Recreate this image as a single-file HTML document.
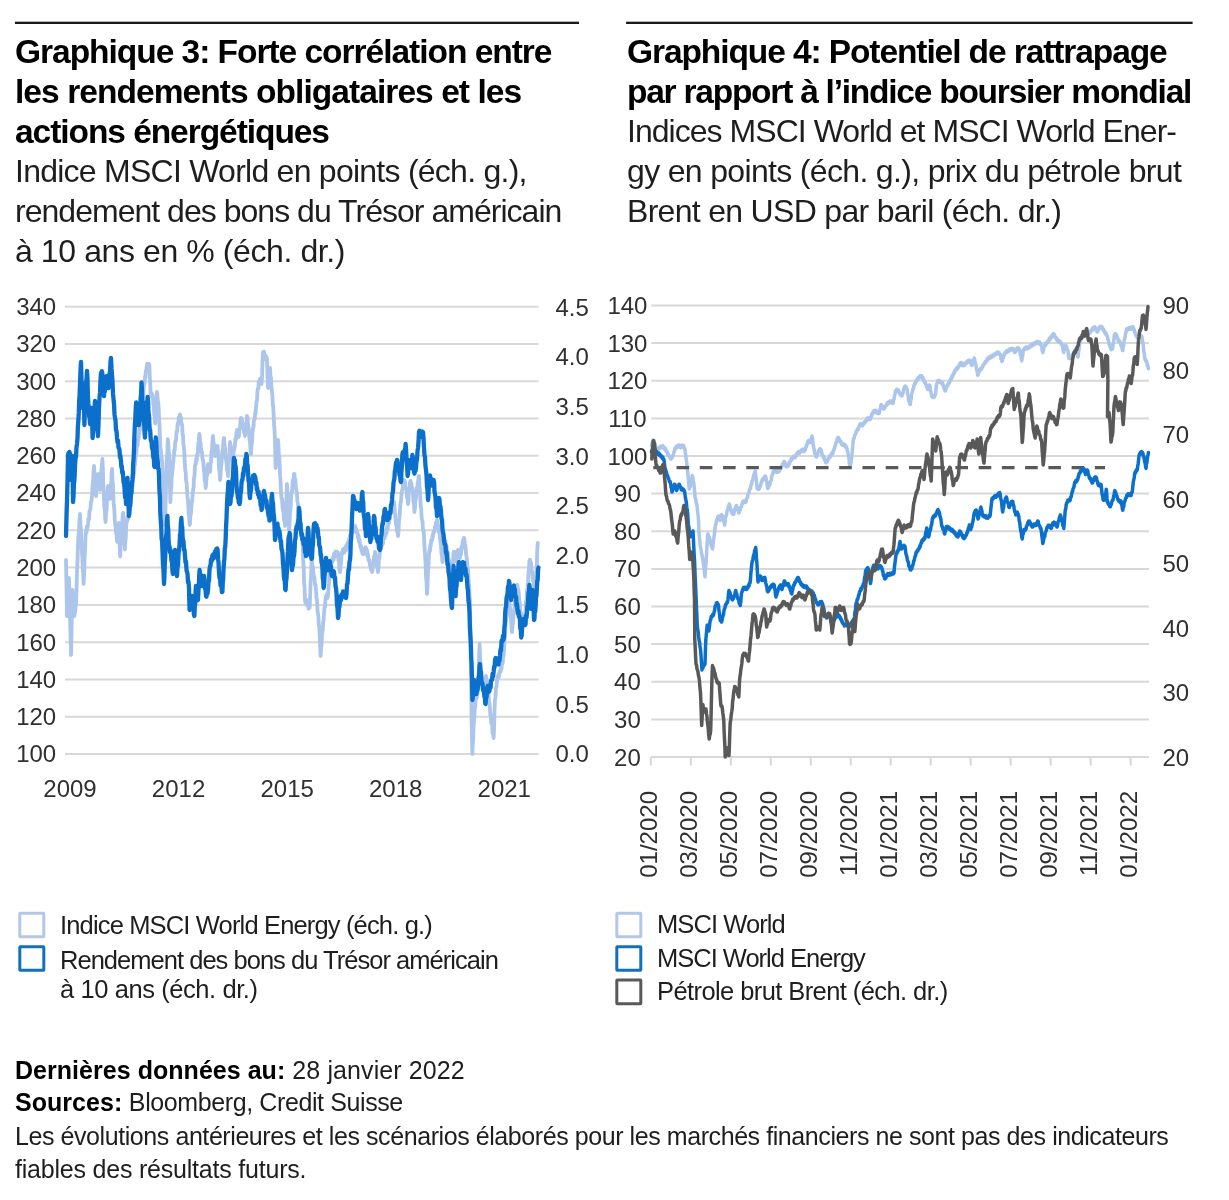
<!DOCTYPE html>
<html lang="fr"><head><meta charset="utf-8"><title>Graphiques 3 et 4</title>
<style>
html,body{margin:0;padding:0;background:#fff;}
body{width:1229px;height:1200px;position:relative;overflow:hidden;font-family:'Liberation Sans', Arial, Helvetica, sans-serif;}
.t{position:absolute;white-space:nowrap;line-height:1;}
.t b{font-weight:700;color:#000;}
svg{position:absolute;left:0;top:0;}
.ax{font-family:'Liberation Sans', Arial, Helvetica, sans-serif;font-size:24px;fill:#303030;}
</style></head><body>
<svg width="1229" height="1200" viewBox="0 0 1229 1200">
<rect x="15" y="21.7" width="564" height="2.3" fill="#1a1a1a"/>
<rect x="626.1" y="21.7" width="566.5" height="2.3" fill="#1a1a1a"/>
<line x1="65" y1="754.00" x2="538.5" y2="754.00" stroke="#d8d8d8" stroke-width="2"/>
<text x="56.2" y="762.40" text-anchor="end" class="ax">100</text>
<line x1="65" y1="716.72" x2="538.5" y2="716.72" stroke="#d8d8d8" stroke-width="2"/>
<text x="56.2" y="725.12" text-anchor="end" class="ax">120</text>
<line x1="65" y1="679.45" x2="538.5" y2="679.45" stroke="#d8d8d8" stroke-width="2"/>
<text x="56.2" y="687.85" text-anchor="end" class="ax">140</text>
<line x1="65" y1="642.17" x2="538.5" y2="642.17" stroke="#d8d8d8" stroke-width="2"/>
<text x="56.2" y="650.57" text-anchor="end" class="ax">160</text>
<line x1="65" y1="604.90" x2="538.5" y2="604.90" stroke="#d8d8d8" stroke-width="2"/>
<text x="56.2" y="613.30" text-anchor="end" class="ax">180</text>
<line x1="65" y1="567.62" x2="538.5" y2="567.62" stroke="#d8d8d8" stroke-width="2"/>
<text x="56.2" y="576.02" text-anchor="end" class="ax">200</text>
<line x1="65" y1="530.35" x2="538.5" y2="530.35" stroke="#d8d8d8" stroke-width="2"/>
<text x="56.2" y="538.75" text-anchor="end" class="ax">220</text>
<line x1="65" y1="493.07" x2="538.5" y2="493.07" stroke="#d8d8d8" stroke-width="2"/>
<text x="56.2" y="501.47" text-anchor="end" class="ax">240</text>
<line x1="65" y1="455.80" x2="538.5" y2="455.80" stroke="#d8d8d8" stroke-width="2"/>
<text x="56.2" y="464.20" text-anchor="end" class="ax">260</text>
<line x1="65" y1="418.52" x2="538.5" y2="418.52" stroke="#d8d8d8" stroke-width="2"/>
<text x="56.2" y="426.92" text-anchor="end" class="ax">280</text>
<line x1="65" y1="381.25" x2="538.5" y2="381.25" stroke="#d8d8d8" stroke-width="2"/>
<text x="56.2" y="389.65" text-anchor="end" class="ax">300</text>
<line x1="65" y1="343.97" x2="538.5" y2="343.97" stroke="#d8d8d8" stroke-width="2"/>
<text x="56.2" y="352.37" text-anchor="end" class="ax">320</text>
<line x1="65" y1="306.70" x2="538.5" y2="306.70" stroke="#d8d8d8" stroke-width="2"/>
<text x="56.2" y="315.10" text-anchor="end" class="ax">340</text>
<text x="555.5" y="315.65" class="ax">4.5</text>
<text x="555.5" y="365.28" class="ax">4.0</text>
<text x="555.5" y="414.91" class="ax">3.5</text>
<text x="555.5" y="464.54" class="ax">3.0</text>
<text x="555.5" y="514.17" class="ax">2.5</text>
<text x="555.5" y="563.80" class="ax">2.0</text>
<text x="555.5" y="613.43" class="ax">1.5</text>
<text x="555.5" y="663.06" class="ax">1.0</text>
<text x="555.5" y="712.69" class="ax">0.5</text>
<text x="555.5" y="762.32" class="ax">0.0</text>
<text x="70.00" y="797.3" text-anchor="middle" class="ax">2009</text>
<text x="178.57" y="797.3" text-anchor="middle" class="ax">2012</text>
<text x="287.14" y="797.3" text-anchor="middle" class="ax">2015</text>
<text x="395.71" y="797.3" text-anchor="middle" class="ax">2018</text>
<text x="504.28" y="797.3" text-anchor="middle" class="ax">2021</text>
<polyline points="66.0,560.0 66.5,586.2 67.0,616.0 67.5,608.6 68.0,595.1 68.5,589.7 69.0,578.0 69.5,595.0 70.0,618.1 70.5,634.2 71.0,655.0 71.5,635.8 71.9,609.8 72.4,590.0 72.9,598.3 73.4,600.4 73.9,611.5 74.4,616.0 74.8,610.6 75.2,612.1 75.6,604.8 76.0,604.0 76.5,590.7 77.0,571.8 77.5,561.5 78.0,544.0 78.5,534.4 79.0,531.3 79.5,519.2 80.0,514.0 80.5,525.1 81.0,530.7 81.5,544.7 82.0,552.0 82.4,558.1 82.8,569.6 83.2,573.5 83.6,584.0 84.1,573.6 84.6,556.7 85.1,549.0 85.6,534.0 86.1,529.7 86.6,532.5 87.0,526.0 87.5,528.4 88.0,524.0 88.5,518.5 89.0,519.5 89.5,511.0 90.0,510.0 90.5,508.2 91.0,501.3 91.5,501.3 92.0,496.0 92.5,485.9 93.0,483.0 93.5,471.3 94.0,466.0 94.5,475.4 95.0,478.9 95.5,490.5 96.0,496.0 96.5,488.6 97.0,487.2 97.5,477.3 98.0,474.0 98.5,480.5 99.0,479.7 99.5,488.5 100.0,490.0 100.5,481.3 101.0,480.2 101.4,469.1 101.9,466.9 102.4,459.0 102.8,466.8 103.2,482.1 103.6,487.2 104.0,500.0 104.4,507.7 104.8,508.7 105.2,518.3 105.6,522.0 106.1,512.4 106.6,509.8 107.0,498.5 107.5,494.8 108.0,486.0 108.5,486.7 109.0,495.0 109.5,493.9 110.0,498.8 110.4,495.2 110.8,484.9 111.3,482.6 111.7,473.1 112.1,469.0 112.5,480.4 112.9,484.5 113.4,497.6 113.8,505.0 114.3,509.5 114.8,519.9 115.2,525.0 115.7,526.1 116.1,533.7 116.5,532.7 117.0,541.2 117.4,542.0 117.9,533.6 118.3,531.9 118.8,523.0 119.2,532.3 119.7,547.0 120.2,556.5 120.6,546.4 121.0,542.3 121.5,531.1 121.9,525.0 122.3,522.9 122.7,514.6 123.1,512.8 123.5,523.7 124.0,529.5 124.5,542.8 124.9,549.5 125.3,540.5 125.8,537.8 126.2,525.6 126.6,521.0 127.0,521.7 127.5,516.5 128.0,519.4 128.4,516.0 128.8,510.8 129.2,512.2 129.7,504.9 130.1,504.0 130.6,502.7 131.0,494.5 131.4,495.6 131.9,490.0 132.3,484.5 132.8,485.3 133.2,477.7 133.6,476.0 134.1,473.5 134.5,464.7 134.9,465.0 135.4,458.5 135.8,453.2 136.2,453.8 136.7,447.1 137.1,446.0 137.6,445.2 138.0,438.4 138.4,439.2 138.9,434.0 139.3,429.2 139.8,430.4 140.2,423.9 140.6,423.5 141.1,420.3 141.5,410.7 141.9,409.7 142.4,402.5 142.8,395.8 143.2,396.1 143.7,387.8 144.1,385.0 144.5,383.4 145.0,376.3 145.4,377.9 145.9,370.3 146.3,371.0 146.8,365.8 147.2,363.6 147.6,367.6 148.1,363.8 148.5,367.6 149.0,363.8 149.4,365.8 149.8,377.3 150.2,382.5 150.6,393.8 151.1,396.4 151.5,392.8 152.0,397.4 152.4,394.4 152.9,397.2 153.3,404.8 153.8,405.9 154.2,414.8 154.7,415.9 155.2,423.5 155.6,417.4 156.0,406.0 156.5,401.9 156.9,392.0 157.3,393.7 157.8,401.5 158.2,401.9 158.7,407.8 159.1,419.7 159.5,425.4 160.0,440.0 160.4,448.0 160.8,449.5 161.3,457.6 161.7,457.9 162.2,463.8 162.6,474.7 163.0,478.8 163.4,490.0 163.8,500.8 164.2,505.7 164.7,517.9 165.1,525.0 165.5,505.4 165.9,491.8 166.3,472.5 166.8,459.0 167.3,452.8 167.8,439.2 168.2,442.7 168.7,451.6 169.2,455.0 169.6,468.4 170.0,488.7 170.4,502.2 170.8,492.4 171.2,489.3 171.7,478.2 172.1,472.5 172.6,470.0 173.0,461.4 173.4,461.2 173.9,455.0 174.3,449.6 174.8,450.0 175.2,442.5 175.6,441.0 176.1,439.5 176.5,431.5 176.9,432.2 177.4,427.0 177.8,423.0 178.3,424.6 178.8,417.2 179.2,419.8 179.7,414.8 180.1,414.5 180.5,420.8 180.9,417.5 181.3,423.5 181.8,423.5 182.2,425.7 182.6,435.0 183.0,434.9 183.4,443.8 183.8,446.2 184.3,452.0 184.8,463.3 185.2,469.0 185.7,472.5 186.1,481.1 186.6,482.6 187.0,490.0 187.5,497.7 187.9,499.3 188.4,507.5 188.8,514.9 189.2,516.7 189.6,525.0 190.1,522.9 190.5,513.7 190.9,514.4 191.4,507.5 191.8,500.6 192.2,500.9 192.7,492.8 193.1,490.0 193.6,487.1 194.0,477.8 194.5,476.1 194.9,466.8 195.4,463.8 195.8,464.1 196.2,458.3 196.7,461.0 197.1,454.6 197.5,455.0 197.9,451.7 198.4,442.7 198.8,441.7 199.2,434.0 199.7,435.4 200.1,443.4 200.6,442.6 201.0,448.0 201.5,452.8 202.0,451.9 202.5,459.4 203.0,460.0 203.4,462.9 203.9,471.7 204.3,471.5 204.7,481.1 205.2,480.9 205.6,488.0 206.1,484.8 206.6,476.2 207.0,476.1 207.5,467.2 208.0,464.0 208.5,467.8 209.0,466.2 209.5,472.1 210.0,472.0 210.5,464.0 211.0,462.1 211.5,451.6 212.0,449.6 212.5,440.4 213.0,436.0 213.5,442.7 214.0,444.3 214.5,452.6 215.0,456.0 215.4,451.8 215.9,455.1 216.3,449.4 216.7,451.4 217.2,445.8 217.6,446.0 218.1,454.7 218.6,457.7 219.0,468.6 219.5,471.0 220.0,480.0 220.5,475.9 221.0,466.2 221.5,463.9 222.0,456.0 222.5,449.8 223.0,449.1 223.5,440.2 224.0,438.0 224.5,445.5 225.0,447.4 225.5,456.2 226.0,460.0 226.5,462.1 227.0,470.2 227.5,469.6 228.0,476.0 228.5,469.5 229.0,456.6 229.5,452.7 230.0,442.0 230.5,444.5 231.0,452.9 231.5,453.4 232.0,460.0 232.5,459.6 233.0,452.7 233.5,454.3 234.0,447.3 234.5,448.5 235.0,444.0 235.5,438.4 236.0,439.3 236.5,431.9 237.0,430.0 237.5,433.5 238.0,431.0 238.5,437.0 239.0,436.0 239.5,429.0 240.0,428.9 240.5,420.0 241.0,418.0 241.5,421.9 242.0,419.2 242.5,424.5 243.0,424.0 243.5,425.3 244.0,432.4 244.5,430.8 245.0,436.0 245.5,433.5 246.0,423.6 246.5,423.3 247.0,416.0 247.5,417.7 248.0,426.1 248.5,426.3 249.0,432.0 249.5,439.7 250.0,441.4 250.5,450.2 251.0,454.0 251.5,445.1 252.0,442.6 252.5,432.8 253.0,428.0 253.5,427.0 253.9,420.2 254.4,420.0 254.8,418.7 255.2,412.4 255.6,413.4 256.0,408.0 256.5,401.3 257.0,400.4 257.5,390.7 258.0,388.0 258.4,388.4 258.8,381.4 259.2,384.2 259.6,380.0 260.1,378.6 260.6,383.6 261.1,380.6 261.6,384.0 262.1,375.4 262.5,360.4 263.0,352.0 263.5,354.7 264.0,351.7 264.5,357.5 265.0,356.0 265.5,355.4 266.0,359.9 266.5,356.9 267.0,360.0 267.5,376.4 268.0,388.0 268.5,381.2 269.0,379.7 269.5,371.2 270.0,368.0 270.5,376.2 271.0,377.7 271.5,388.0 272.0,392.0 272.4,395.6 272.8,405.0 273.2,406.6 273.6,414.0 274.1,424.7 274.5,429.7 275.0,440.0 275.3,456.1 275.6,468.0 276.1,459.8 276.6,458.8 277.0,448.9 277.5,447.3 278.0,440.0 278.4,443.7 278.8,454.3 279.2,455.7 279.6,464.0 280.1,475.4 280.5,480.6 281.0,492.0 281.5,498.7 282.0,498.5 282.5,507.2 283.0,510.0 283.5,512.3 284.0,520.3 284.5,519.5 285.0,526.0 285.5,517.6 286.0,503.0 286.5,496.8 287.0,484.0 287.5,493.7 288.0,508.8 288.5,516.7 289.0,530.0 289.5,524.7 290.0,513.1 290.5,509.3 291.0,500.0 291.5,492.7 292.0,492.6 292.5,483.1 293.0,480.0 293.5,480.3 293.9,474.0 294.4,474.0 294.9,480.4 295.4,479.8 295.9,487.8 296.4,490.0 296.9,493.2 297.4,501.6 297.9,502.9 298.4,510.0 298.8,514.5 299.2,513.3 299.6,519.4 300.0,520.0 300.5,522.1 301.0,530.4 301.4,530.3 301.9,538.6 302.4,540.0 302.8,547.9 303.3,562.2 303.7,568.0 304.1,582.4 304.6,587.6 305.0,600.0 305.4,602.8 305.9,599.3 306.3,604.3 306.7,600.2 307.2,605.3 307.6,604.0 308.1,602.7 308.6,608.6 309.1,605.0 309.6,608.0 310.1,597.8 310.6,582.2 311.1,574.3 311.6,560.0 312.1,560.9 312.6,569.0 313.0,567.2 313.5,574.6 314.0,576.0 314.5,577.7 315.0,584.8 315.5,584.7 316.0,590.0 316.5,598.3 317.0,599.5 317.5,610.5 318.0,614.0 318.4,616.7 318.8,625.5 319.2,625.6 319.6,632.0 320.1,646.0 320.6,656.0 321.1,647.7 321.5,645.6 321.9,636.3 322.4,632.0 322.8,629.9 323.2,621.1 323.6,620.4 324.0,614.0 324.5,607.3 325.0,607.3 325.5,598.9 326.0,596.0 326.5,597.9 327.0,594.0 327.5,598.1 328.0,596.0 328.5,586.7 329.0,583.2 329.5,570.9 330.0,566.0 330.5,566.8 331.0,561.5 331.4,564.1 331.9,559.4 332.4,560.0 332.8,561.3 333.3,556.3 333.7,559.5 334.1,553.5 334.6,556.7 335.0,554.0 335.5,551.5 336.0,555.9 336.5,551.6 337.0,556.3 337.5,552.1 338.0,554.0 338.5,560.8 339.0,560.8 339.5,569.9 340.0,572.0 340.5,565.2 341.0,564.3 341.5,554.4 342.0,552.0 342.5,553.9 343.0,549.2 343.5,552.7 344.0,548.6 344.5,552.3 345.0,550.0 345.5,546.7 346.0,550.3 346.5,544.9 347.0,547.7 347.5,542.8 348.0,544.0 348.5,544.5 349.0,538.9 349.5,541.5 350.0,535.1 350.5,537.4 351.0,534.0 351.5,530.1 352.0,533.0 352.5,528.1 353.0,531.0 353.5,525.2 354.0,526.0 354.5,529.1 355.0,525.8 355.5,531.0 356.0,528.1 356.5,532.7 357.0,532.0 357.5,532.4 358.0,538.3 358.5,535.7 359.0,542.1 359.5,539.7 360.0,544.0 360.5,547.6 361.0,545.5 361.5,551.0 362.0,548.2 362.5,553.9 363.0,554.0 363.5,550.9 364.0,553.8 364.5,548.6 365.0,551.9 365.5,547.1 366.0,548.0 366.5,552.0 367.0,549.9 367.5,556.4 368.0,554.1 368.5,560.4 369.0,560.0 369.5,560.3 370.0,565.8 370.5,564.3 371.0,569.7 371.5,567.6 372.0,572.0 372.5,571.0 373.0,563.6 373.5,563.8 374.0,556.7 374.5,557.7 375.0,552.0 375.5,552.9 376.0,561.0 376.5,559.8 377.0,567.0 377.5,566.7 378.0,572.0 378.5,568.3 379.0,558.9 379.5,557.7 380.0,550.0 380.5,546.7 381.0,548.8 381.5,543.1 382.0,545.6 382.5,540.1 383.0,543.5 383.5,537.0 384.0,538.0 384.5,538.5 385.0,532.9 385.5,535.7 386.0,529.8 386.5,533.1 387.0,526.7 387.5,529.4 388.0,526.0 388.5,521.2 389.0,523.4 389.5,516.8 390.0,519.0 390.5,512.8 391.0,512.0 391.5,512.7 392.0,506.4 392.5,509.1 393.0,503.2 393.5,505.7 394.0,502.0 394.4,504.7 394.8,513.1 395.2,513.9 395.6,520.0 396.1,525.3 396.6,524.2 397.0,531.6 397.5,530.7 398.0,536.0 398.5,532.1 399.0,520.5 399.5,518.2 400.0,510.0 400.5,502.6 401.0,502.2 401.5,493.4 402.0,490.0 402.5,489.9 403.0,484.2 403.4,485.6 403.9,479.9 404.4,480.0 404.8,484.5 405.2,482.1 405.6,488.5 406.0,488.0 406.5,489.7 407.0,497.7 407.5,497.5 408.0,504.0 408.5,500.7 409.0,490.5 409.5,489.8 410.0,482.0 410.5,480.9 411.0,486.3 411.4,483.2 411.9,489.3 412.4,488.0 412.9,491.5 413.4,502.0 413.9,503.7 414.4,512.0 414.9,509.1 415.4,500.3 415.9,498.6 416.4,492.0 416.8,487.7 417.3,488.4 417.7,482.3 418.1,483.4 418.6,476.4 419.0,476.0 419.5,486.1 419.9,490.0 420.4,500.0 420.8,507.2 421.2,508.1 421.6,517.0 422.0,520.0 422.5,521.7 423.0,530.0 423.5,530.3 424.0,536.0 424.5,547.5 425.0,554.0 425.5,561.7 426.0,575.9 426.5,582.1 427.0,594.0 427.5,586.1 428.0,571.8 428.5,565.8 429.0,554.0 429.4,550.1 429.9,551.1 430.3,544.6 430.7,546.4 431.2,540.3 431.6,540.0 432.1,540.2 432.6,535.0 433.0,536.9 433.5,531.6 434.0,532.0 434.5,531.7 435.0,526.4 435.5,527.7 436.0,522.3 436.5,524.1 437.0,520.0 437.5,521.0 438.0,526.9 438.5,526.0 439.0,532.7 439.5,531.0 440.0,536.0 440.5,542.8 441.0,544.4 441.4,553.6 441.9,555.2 442.4,562.0 442.8,560.9 443.3,552.9 443.7,552.7 444.1,545.3 444.6,545.4 445.0,540.0 445.5,540.3 446.0,546.9 446.5,545.8 447.0,550.0 447.5,554.1 448.0,552.7 448.5,559.3 449.0,560.0 449.4,561.3 449.9,569.4 450.3,568.5 450.7,576.5 451.2,576.5 451.6,582.0 452.1,576.3 452.6,564.6 453.1,561.7 453.6,552.0 454.1,551.7 454.6,556.9 455.0,554.5 455.5,561.0 456.0,560.0 456.5,555.3 457.0,556.6 457.5,550.9 458.0,550.0 458.5,553.7 459.0,552.3 459.5,557.6 460.0,558.0 460.5,553.6 461.0,554.6 461.4,547.1 461.9,548.6 462.4,544.0 462.9,540.2 463.4,543.6 463.9,537.9 464.4,539.0 464.9,545.8 465.4,545.0 465.9,553.3 466.4,556.0 466.9,559.1 467.4,568.2 467.9,568.5 468.4,576.0 468.8,583.7 469.2,586.1 469.6,596.4 470.0,600.0 470.4,628.3 470.8,662.0 471.2,688.1 471.6,720.0 472.0,739.3 472.4,754.0 472.8,743.0 473.2,738.7 473.6,726.2 474.0,720.0 474.4,717.3 474.8,707.6 475.2,707.1 475.6,700.0 476.1,695.5 476.6,697.9 477.0,692.0 477.5,693.8 478.0,690.0 478.4,676.1 478.8,669.1 479.2,653.7 479.6,644.0 480.1,657.7 480.5,665.7 481.0,680.0 481.5,683.5 482.0,680.4 482.5,686.0 483.0,683.3 483.5,688.4 484.0,688.0 484.5,682.7 485.0,683.6 485.5,677.0 486.0,676.0 486.5,681.8 487.0,680.7 487.5,688.2 488.0,690.0 488.5,693.2 489.0,702.4 489.5,702.8 490.0,710.0 490.4,716.0 490.8,714.5 491.2,722.5 491.6,724.0 492.1,725.0 492.6,733.3 493.1,732.6 493.6,738.0 494.1,727.3 494.5,711.0 495.0,700.0 495.5,697.0 496.0,687.4 496.5,686.7 497.0,680.0 497.5,676.5 498.0,679.0 498.5,674.4 499.0,676.9 499.5,671.5 500.0,672.0 500.5,672.0 501.0,667.1 501.4,669.4 501.9,663.4 502.4,664.0 502.8,662.1 503.2,655.2 503.6,656.1 504.0,650.0 504.5,640.7 505.0,637.1 505.5,625.5 506.0,620.0 506.5,616.4 507.0,605.8 507.5,604.4 508.0,596.0 508.5,596.9 509.0,603.8 509.5,603.3 510.0,608.0 510.5,615.6 511.0,617.6 511.5,627.7 512.0,632.0 512.5,624.9 513.0,623.6 513.5,613.7 514.0,610.0 514.5,608.3 515.0,600.0 515.5,599.5 515.9,591.5 516.4,591.6 516.9,585.0 517.4,585.0 517.8,591.7 518.3,589.4 518.8,594.0 519.2,601.1 519.7,601.3 520.1,610.1 520.6,612.5 521.1,613.6 521.5,620.4 522.0,619.4 522.5,625.0 523.0,625.2 523.5,618.6 524.0,620.8 524.5,614.9 525.0,615.0 525.5,611.5 526.0,601.7 526.5,600.1 527.0,591.1 527.5,587.5 528.0,582.9 528.5,572.6 528.9,569.8 529.4,561.0 529.9,559.7 530.3,565.0 530.8,561.8 531.2,565.0 531.7,571.2 532.2,571.2 532.6,578.9 533.1,581.0 533.6,580.0 534.0,586.2 534.5,583.9 535.0,587.5 535.4,585.0 535.8,577.4 536.2,575.0 536.8,566.1 537.2,551.1 537.8,543.0" fill="none" stroke="#abc6ea" stroke-width="3.8" stroke-linejoin="round" stroke-linecap="round"/>
<polyline points="66.0,536.0 66.5,515.6 67.0,500.0 67.5,480.5 68.0,456.0 68.5,452.9 69.0,457.7 69.5,452.0 70.0,454.0 70.5,469.7 71.0,480.0 71.5,470.3 71.9,466.2 72.4,456.0 72.7,476.3 73.0,502.0 73.5,497.1 73.9,484.6 74.4,480.0 74.7,474.8 75.0,466.0 75.5,458.3 76.0,457.0 76.5,447.2 77.0,444.0 77.5,438.3 77.9,426.3 78.4,420.0 78.8,412.9 79.2,400.0 79.6,395.7 80.0,384.0 80.5,370.5 81.0,362.0 81.5,379.2 81.9,390.1 82.4,408.0 82.8,401.8 83.2,389.6 83.6,384.0 84.0,406.3 84.4,425.0 84.8,411.7 85.2,404.3 85.6,390.0 86.1,381.8 86.5,379.3 87.0,371.0 87.5,379.2 87.9,395.7 88.4,404.0 88.8,407.0 89.2,416.8 89.6,416.7 90.0,424.0 90.4,422.4 90.8,414.1 91.2,414.7 91.6,408.0 92.1,420.5 92.6,438.0 93.1,432.1 93.5,418.0 94.0,412.0 94.5,408.5 95.0,401.0 95.5,405.2 95.9,415.5 96.4,420.0 96.8,422.2 97.2,429.8 97.6,430.0 98.0,436.0 98.5,424.4 99.0,408.0 99.5,397.6 100.0,392.9 100.5,379.7 101.0,373.0 101.5,375.4 101.9,371.1 102.4,374.0 102.8,381.7 103.2,383.0 103.6,392.7 104.0,396.0 104.4,390.5 104.8,391.7 105.2,384.2 105.6,384.0 106.1,383.0 106.5,376.1 107.0,376.0 107.5,382.6 107.9,382.3 108.4,388.0 108.8,385.9 109.2,376.6 109.6,374.0 110.1,371.0 110.5,361.6 111.0,358.0 111.5,368.2 112.0,375.0 112.5,381.1 113.0,393.7 113.5,399.0 114.0,403.4 114.5,414.2 115.0,418.0 115.5,420.2 116.0,430.5 116.5,430.6 117.0,437.5 117.5,442.2 118.0,440.5 118.5,447.9 119.0,448.0 119.5,449.7 120.0,457.5 120.5,455.9 121.0,462.0 121.4,467.4 121.8,465.9 122.3,473.1 122.7,471.4 123.1,476.0 123.6,482.7 124.1,483.0 124.6,490.0 125.1,497.4 125.6,497.3 126.1,504.0 126.6,498.0 127.0,484.4 127.5,478.0 128.0,492.7 128.4,501.3 128.9,516.0 129.3,513.9 129.8,506.2 130.2,505.8 130.6,500.0 131.1,492.5 131.5,492.8 131.9,483.1 132.4,480.0 132.8,474.6 133.2,462.9 133.6,458.5 134.0,449.3 134.5,433.4 134.9,424.0 135.3,418.8 135.8,407.3 136.2,402.5 136.7,410.7 137.1,411.6 137.6,421.5 138.0,425.0 138.4,422.0 138.9,425.2 139.3,419.5 139.8,420.0 140.2,412.8 140.6,398.6 141.1,393.6 141.5,382.4 141.9,387.3 142.3,399.9 142.8,402.2 143.2,412.0 143.6,420.9 144.1,423.0 144.6,433.3 145.0,437.5 145.4,426.8 145.9,422.4 146.3,408.9 146.8,402.0 147.2,401.7 147.6,397.0 148.1,401.0 148.5,413.1 148.9,414.5 149.4,424.0 149.8,430.4 150.2,430.3 150.7,439.2 151.1,441.0 151.6,441.5 152.0,448.5 152.4,447.1 152.9,452.0 153.3,457.6 153.8,457.4 154.2,466.0 154.6,467.0 155.0,454.4 155.4,449.7 155.8,437.5 156.3,442.1 156.8,453.2 157.2,458.0 157.7,460.7 158.1,469.0 158.6,468.9 159.0,476.0 159.4,490.0 159.9,496.7 160.3,512.7 160.8,521.5 161.2,526.3 161.6,538.7 162.1,541.2 162.5,551.0 163.0,564.5 163.5,570.9 164.0,584.0 164.4,577.0 164.8,563.0 165.2,557.7 165.6,546.0 166.1,536.0 166.5,533.5 166.9,521.5 167.4,516.0 167.8,526.2 168.2,528.6 168.6,540.8 169.0,546.0 169.5,546.3 170.0,552.3 170.5,550.0 171.0,554.0 171.5,561.4 172.0,561.8 172.5,571.6 173.0,574.0 173.5,565.6 174.0,564.6 174.5,553.9 175.0,550.0 175.5,558.9 176.0,560.5 176.5,572.1 177.0,576.0 177.5,567.4 178.0,565.6 178.5,553.8 179.0,550.0 179.5,546.1 180.0,534.4 180.4,533.6 180.9,522.1 181.4,518.0 181.8,525.8 182.2,527.1 182.6,537.1 183.0,540.0 183.5,541.3 184.0,550.2 184.5,549.5 185.0,556.0 185.5,562.5 186.0,561.5 186.5,569.9 187.0,572.0 187.5,573.4 188.0,582.3 188.5,581.6 189.0,588.0 189.3,601.2 189.6,610.0 190.1,604.8 190.6,606.9 191.0,599.2 191.5,601.3 192.0,596.0 192.5,598.3 193.0,605.9 193.4,605.8 193.9,614.4 194.4,616.0 194.8,606.6 195.2,603.4 195.6,591.1 196.0,586.0 196.5,591.2 197.0,590.8 197.5,598.4 198.0,600.0 198.4,590.8 198.8,586.8 199.2,575.5 199.6,570.0 200.1,575.1 200.6,574.5 201.0,581.3 201.5,580.6 202.0,586.0 202.5,585.6 203.0,578.6 203.5,580.8 204.0,576.0 204.5,579.1 205.0,588.7 205.5,589.3 206.0,596.0 206.5,596.6 207.0,591.0 207.5,593.6 208.0,590.0 208.5,582.2 209.0,580.6 209.5,569.9 210.0,566.0 210.5,565.7 211.0,559.6 211.5,561.8 212.0,558.0 212.5,555.2 213.0,559.1 213.5,554.2 214.0,556.0 214.5,557.8 215.0,551.4 215.5,555.1 216.0,552.0 216.4,548.9 216.8,553.4 217.2,548.4 217.6,550.0 218.1,559.2 218.5,562.3 219.0,572.0 219.5,577.8 220.0,576.2 220.5,585.3 221.0,586.0 221.5,585.6 221.9,592.1 222.4,592.0 222.8,581.8 223.2,578.7 223.6,567.7 224.0,562.0 224.4,558.8 224.8,548.6 225.2,547.3 225.6,540.0 226.1,525.6 226.5,518.7 227.0,504.0 227.5,494.6 227.9,491.5 228.4,482.0 228.8,485.6 229.2,495.0 229.6,495.7 230.0,504.0 230.5,502.6 231.0,494.2 231.5,496.2 232.0,490.0 232.5,479.7 233.0,476.0 233.5,463.2 234.0,458.0 234.4,462.2 234.8,459.9 235.2,466.0 235.6,466.0 236.1,471.9 236.5,485.6 237.0,492.0 237.4,492.0 237.9,498.2 238.3,496.2 238.7,502.4 239.2,499.8 239.6,504.0 240.1,501.2 240.6,491.8 241.0,492.2 241.5,483.1 242.0,480.0 242.5,479.9 243.0,473.2 243.4,475.5 243.9,467.8 244.4,468.0 244.9,466.5 245.4,459.0 245.9,459.4 246.4,454.0 246.8,455.7 247.2,465.0 247.6,465.1 248.0,472.0 248.5,480.7 249.0,482.6 249.5,493.9 250.0,498.0 250.5,491.0 251.0,490.8 251.5,482.0 252.0,480.0 252.5,481.0 253.0,475.7 253.5,479.1 254.0,476.0 254.4,475.0 254.8,480.3 255.2,476.8 255.6,480.0 256.0,484.5 256.4,482.3 256.8,489.5 257.2,487.9 257.6,492.0 258.1,495.0 258.6,491.8 259.1,497.7 259.6,496.0 260.1,496.8 260.6,505.3 261.1,504.8 261.6,510.0 262.1,508.1 262.6,498.8 263.1,498.8 263.6,492.0 264.1,491.1 264.6,497.6 265.0,494.6 265.5,501.1 266.0,500.0 266.5,500.9 267.0,508.1 267.5,506.4 268.0,512.0 268.5,515.9 269.0,514.0 269.5,520.6 270.0,520.0 270.5,511.7 271.0,509.6 271.5,498.0 272.0,494.0 272.5,501.7 273.0,503.0 273.5,513.1 274.0,516.0 274.5,525.3 275.0,540.0 275.5,537.8 276.0,529.8 276.5,530.3 277.0,524.0 277.5,523.8 278.0,530.1 278.5,528.1 279.0,534.3 279.5,531.4 280.0,536.0 280.5,541.3 281.0,541.1 281.5,549.1 282.0,550.0 282.5,553.4 283.0,564.4 283.4,566.3 283.9,576.5 284.4,580.0 284.8,580.6 285.2,589.5 285.6,590.0 286.1,580.9 286.5,578.4 287.0,570.0 287.5,557.4 287.9,551.9 288.4,540.0 288.8,536.1 289.2,539.7 289.6,533.0 290.0,534.0 290.5,544.8 291.0,550.0 291.5,563.7 292.0,570.0 292.5,564.7 293.0,565.4 293.5,557.4 294.0,556.0 294.5,551.4 295.0,540.6 295.5,538.2 296.0,530.0 296.5,526.7 297.0,529.1 297.5,523.7 298.0,524.0 298.5,517.7 299.0,508.0 299.5,511.7 300.0,522.5 300.5,523.3 301.0,532.0 301.5,535.8 302.0,533.8 302.5,540.0 303.0,537.6 303.5,544.2 304.0,544.0 304.5,544.3 305.0,552.1 305.5,551.3 306.0,556.0 306.5,551.5 307.0,540.2 307.5,537.4 308.0,528.0 308.5,531.8 309.0,542.7 309.5,543.7 310.0,552.0 310.5,555.9 311.0,553.0 311.5,558.8 312.0,558.0 312.5,547.5 313.0,543.5 313.5,530.2 314.0,524.0 314.5,526.3 315.0,523.1 315.5,527.6 316.0,526.0 316.5,525.0 317.0,530.9 317.5,528.0 318.0,532.0 318.4,537.9 318.8,537.2 319.2,544.9 319.6,546.0 320.1,547.8 320.6,555.0 321.0,554.5 321.5,562.3 322.0,564.0 322.4,567.3 322.8,578.2 323.2,580.0 323.6,588.0 324.1,584.6 324.6,574.3 325.0,572.5 325.5,562.3 326.0,558.0 326.5,562.8 327.0,561.3 327.5,569.4 328.0,570.0 328.5,566.1 329.0,567.8 329.5,561.2 330.0,562.0 330.5,567.9 331.0,566.4 331.5,574.3 332.0,576.0 332.5,572.6 333.0,576.1 333.5,571.1 334.0,572.0 334.5,578.1 335.0,577.6 335.5,586.1 336.0,588.0 336.5,593.4 337.0,604.8 337.5,607.9 338.0,618.0 338.5,615.9 339.0,606.4 339.5,606.7 340.0,600.0 340.5,596.4 341.0,600.3 341.5,594.7 342.0,596.0 342.5,597.3 343.0,591.5 343.5,595.1 344.0,592.0 344.5,591.7 345.0,596.7 345.5,594.6 346.0,598.0 346.5,594.2 347.0,584.3 347.5,583.7 348.0,576.0 348.5,569.5 349.0,569.7 349.5,561.8 350.0,560.0 350.4,554.7 350.8,541.6 351.2,538.2 351.6,528.0 352.1,515.1 352.5,508.5 353.0,496.0 353.5,496.1 354.0,501.9 354.5,499.9 355.0,506.1 355.5,503.3 356.0,508.0 356.5,509.1 357.0,504.4 357.4,507.6 357.9,502.9 358.4,504.0 358.9,507.5 359.4,505.1 359.9,510.7 360.4,510.0 360.9,503.8 361.4,503.7 361.9,494.4 362.4,492.0 362.8,500.7 363.2,501.5 363.6,512.4 364.0,516.0 364.5,518.8 365.0,528.7 365.5,529.2 366.0,536.0 366.5,532.9 367.0,523.0 367.5,521.9 368.0,514.0 368.5,517.1 369.0,527.1 369.4,528.9 369.9,538.1 370.4,542.0 370.8,537.7 371.3,539.1 371.7,532.9 372.1,535.4 372.6,528.2 373.0,528.0 373.5,524.0 374.0,516.0 374.5,518.3 375.0,527.0 375.5,527.0 376.0,534.0 376.5,538.5 377.0,536.1 377.5,541.9 378.0,542.0 378.5,541.6 379.0,548.7 379.5,545.6 380.0,550.0 380.5,546.7 381.0,536.2 381.5,535.2 382.0,528.0 382.5,523.1 383.0,524.2 383.5,516.4 384.0,517.1 384.5,509.9 385.0,509.0 385.5,514.5 386.0,512.2 386.5,519.3 387.0,520.0 387.5,517.2 388.0,519.8 388.5,514.3 389.0,518.2 389.5,512.3 390.0,514.0 390.5,512.2 391.0,505.0 391.5,505.2 392.0,500.0 392.5,492.9 393.0,491.7 393.5,483.0 394.0,480.0 394.4,478.6 394.8,471.0 395.2,471.2 395.6,466.0 396.1,462.3 396.5,464.8 397.0,460.0 397.5,460.6 398.0,467.2 398.5,465.4 399.0,470.0 399.5,475.3 400.0,474.2 400.5,481.0 401.0,482.0 401.5,470.9 401.9,465.6 402.4,454.0 402.8,452.3 403.2,458.4 403.6,454.4 404.0,458.0 404.4,456.4 404.8,449.3 405.2,449.8 405.6,444.0 406.1,449.8 406.6,462.3 407.1,465.9 407.6,476.0 408.1,473.0 408.5,462.8 409.0,460.0 409.5,464.7 410.0,462.0 410.5,468.2 411.0,468.0 411.5,461.1 411.9,461.3 412.4,455.0 412.8,457.4 413.2,465.5 413.6,466.0 414.0,472.0 414.5,473.5 415.0,467.4 415.5,471.0 416.0,468.0 416.5,461.2 417.0,459.8 417.5,451.0 418.0,448.0 418.5,441.8 419.0,432.0 419.5,430.8 420.0,436.3 420.5,433.0 421.0,436.0 421.5,436.7 422.0,431.5 422.5,434.7 423.0,432.0 423.5,438.1 424.0,448.0 424.5,455.5 425.0,456.9 425.5,466.3 426.0,470.0 426.5,475.3 427.0,487.0 427.5,490.0 428.0,500.0 428.4,496.3 428.8,485.3 429.2,484.4 429.6,476.0 430.1,475.5 430.6,482.3 431.1,479.8 431.6,484.0 432.1,485.6 432.6,479.6 433.1,483.7 433.6,480.0 434.1,482.2 434.5,491.8 435.0,494.0 435.5,497.5 436.0,507.6 436.5,508.4 437.0,516.0 437.5,513.3 438.0,505.2 438.5,504.4 439.0,498.0 439.5,499.5 440.0,507.4 440.5,506.5 441.0,512.0 441.5,518.8 442.0,519.5 442.5,529.3 443.0,532.0 443.5,534.3 444.0,540.0 444.5,543.7 445.0,544.0 445.5,545.7 446.0,553.1 446.5,551.9 447.0,558.0 447.5,564.7 448.0,563.6 448.5,571.9 449.0,574.0 449.5,578.3 450.0,589.1 450.5,591.4 451.0,600.0 451.5,605.7 452.0,608.0 452.4,595.2 452.8,589.6 453.2,574.0 453.6,566.0 454.1,575.3 454.6,578.7 455.1,590.4 455.6,596.0 456.1,587.5 456.6,586.2 457.1,575.3 457.6,572.0 458.1,571.2 458.5,563.5 459.0,562.0 459.5,568.5 460.0,568.3 460.5,577.7 461.0,580.0 461.5,573.3 462.0,573.2 462.5,564.0 463.0,562.0 463.5,566.2 464.0,562.7 464.5,569.3 465.0,568.0 465.5,568.7 466.0,575.8 466.5,574.4 467.0,580.0 467.5,588.1 468.0,590.3 468.5,600.8 469.0,604.0 469.5,612.9 469.9,627.7 470.4,636.0 470.8,643.1 471.2,657.3 471.6,664.0 472.0,679.9 472.4,700.0 472.8,696.9 473.2,688.0 473.6,686.9 474.0,680.0 474.5,681.2 475.0,689.1 475.5,688.0 476.0,694.0 476.5,694.0 477.0,687.9 477.5,690.0 478.0,686.0 478.5,677.7 479.0,677.6 479.5,666.9 480.0,664.0 480.5,671.4 481.0,671.9 481.5,680.8 482.0,684.0 482.5,683.4 483.0,690.2 483.5,688.3 484.0,692.0 484.4,696.9 484.8,696.2 485.2,703.5 485.6,704.0 486.1,696.8 486.6,696.9 487.1,687.9 487.6,686.0 488.1,689.0 488.6,685.6 489.1,691.6 489.6,690.0 490.1,685.1 490.6,687.6 491.1,680.4 491.6,680.0 492.1,679.7 492.6,673.7 493.1,676.3 493.6,672.0 494.1,666.6 494.6,667.1 495.1,659.5 495.6,658.0 496.1,660.9 496.6,658.4 497.0,663.7 497.5,660.6 498.0,664.0 498.5,664.5 499.0,657.9 499.5,660.8 500.0,656.0 500.5,649.4 501.0,650.7 501.5,641.5 502.0,640.0 502.5,641.4 503.0,635.7 503.5,639.6 504.0,636.0 504.4,626.9 504.8,624.3 505.2,612.6 505.6,608.0 506.1,606.3 506.5,598.0 507.0,596.0 507.5,594.0 508.0,586.7 508.5,586.8 509.0,581.0 509.4,582.5 509.9,591.1 510.4,589.9 510.8,598.2 511.2,600.0 511.7,594.5 512.1,596.4 512.6,589.1 513.0,590.6 513.5,586.0 513.9,585.5 514.3,592.4 514.8,589.2 515.2,596.7 515.6,596.0 516.1,597.0 516.5,605.6 517.0,604.0 517.5,610.0 518.0,613.9 518.5,611.1 518.9,616.8 519.4,616.0 519.9,618.7 520.3,628.7 520.8,629.4 521.2,637.5 521.7,635.4 522.2,626.6 522.6,626.1 523.1,620.0 523.6,619.1 524.0,624.4 524.5,621.3 525.0,625.0 525.5,624.4 526.0,615.8 526.5,617.6 527.0,612.0 527.4,605.9 527.7,605.8 528.1,600.0 528.5,592.5 529.0,592.3 529.4,585.0 529.8,588.5 530.2,599.0 530.6,600.1 531.0,608.8 531.5,604.4 532.0,594.2 532.5,590.0 533.0,602.0 533.5,607.6 534.0,620.0 534.4,619.2 534.8,611.1 535.2,611.9 535.6,606.0 536.0,597.3 536.5,595.6 536.9,587.5 537.3,580.7 537.7,579.8 538.1,569.9 538.5,567.5" fill="none" stroke="#0b6fcc" stroke-width="4.3" stroke-linejoin="round" stroke-linecap="round"/>
<line x1="651.3" y1="719.38" x2="1149" y2="719.38" stroke="#d8d8d8" stroke-width="2"/>
<line x1="651.3" y1="681.75" x2="1149" y2="681.75" stroke="#d8d8d8" stroke-width="2"/>
<line x1="651.3" y1="644.12" x2="1149" y2="644.12" stroke="#d8d8d8" stroke-width="2"/>
<line x1="651.3" y1="606.50" x2="1149" y2="606.50" stroke="#d8d8d8" stroke-width="2"/>
<line x1="651.3" y1="568.88" x2="1149" y2="568.88" stroke="#d8d8d8" stroke-width="2"/>
<line x1="651.3" y1="531.25" x2="1149" y2="531.25" stroke="#d8d8d8" stroke-width="2"/>
<line x1="651.3" y1="493.62" x2="1149" y2="493.62" stroke="#d8d8d8" stroke-width="2"/>
<line x1="651.3" y1="456.00" x2="1149" y2="456.00" stroke="#d8d8d8" stroke-width="2"/>
<line x1="651.3" y1="418.38" x2="1149" y2="418.38" stroke="#d8d8d8" stroke-width="2"/>
<line x1="651.3" y1="380.75" x2="1149" y2="380.75" stroke="#d8d8d8" stroke-width="2"/>
<line x1="651.3" y1="343.12" x2="1149" y2="343.12" stroke="#d8d8d8" stroke-width="2"/>
<line x1="651.3" y1="305.50" x2="1149" y2="305.50" stroke="#d8d8d8" stroke-width="2"/>
<text x="627.4" y="765.50" text-anchor="middle" class="ax">20</text>
<text x="627.4" y="727.88" text-anchor="middle" class="ax">30</text>
<text x="627.4" y="690.25" text-anchor="middle" class="ax">40</text>
<text x="627.4" y="652.62" text-anchor="middle" class="ax">50</text>
<text x="627.4" y="615.00" text-anchor="middle" class="ax">60</text>
<text x="627.4" y="577.38" text-anchor="middle" class="ax">70</text>
<text x="627.4" y="539.75" text-anchor="middle" class="ax">80</text>
<text x="627.4" y="502.12" text-anchor="middle" class="ax">90</text>
<text x="627.4" y="464.50" text-anchor="middle" class="ax">100</text>
<text x="627.4" y="426.88" text-anchor="middle" class="ax">110</text>
<text x="627.4" y="389.25" text-anchor="middle" class="ax">120</text>
<text x="627.4" y="351.62" text-anchor="middle" class="ax">130</text>
<text x="627.4" y="314.00" text-anchor="middle" class="ax">140</text>
<line x1="651.3" y1="757.00" x2="1149" y2="757.00" stroke="#d8d8d8" stroke-width="2"/>
<line x1="650.80" y1="757.00" x2="650.80" y2="765.5" stroke="#d8d8d8" stroke-width="2"/>
<text transform="translate(657.10,791) rotate(-90)" text-anchor="end" class="ax">01/2020</text>
<line x1="690.79" y1="757.00" x2="690.79" y2="765.5" stroke="#d8d8d8" stroke-width="2"/>
<text transform="translate(697.09,791) rotate(-90)" text-anchor="end" class="ax">03/2020</text>
<line x1="730.78" y1="757.00" x2="730.78" y2="765.5" stroke="#d8d8d8" stroke-width="2"/>
<text transform="translate(737.08,791) rotate(-90)" text-anchor="end" class="ax">05/2020</text>
<line x1="770.77" y1="757.00" x2="770.77" y2="765.5" stroke="#d8d8d8" stroke-width="2"/>
<text transform="translate(777.07,791) rotate(-90)" text-anchor="end" class="ax">07/2020</text>
<line x1="810.76" y1="757.00" x2="810.76" y2="765.5" stroke="#d8d8d8" stroke-width="2"/>
<text transform="translate(817.06,791) rotate(-90)" text-anchor="end" class="ax">09/2020</text>
<line x1="850.75" y1="757.00" x2="850.75" y2="765.5" stroke="#d8d8d8" stroke-width="2"/>
<text transform="translate(857.05,791) rotate(-90)" text-anchor="end" class="ax">11/2020</text>
<line x1="890.74" y1="757.00" x2="890.74" y2="765.5" stroke="#d8d8d8" stroke-width="2"/>
<text transform="translate(897.04,791) rotate(-90)" text-anchor="end" class="ax">01/2021</text>
<line x1="930.73" y1="757.00" x2="930.73" y2="765.5" stroke="#d8d8d8" stroke-width="2"/>
<text transform="translate(937.03,791) rotate(-90)" text-anchor="end" class="ax">03/2021</text>
<line x1="970.72" y1="757.00" x2="970.72" y2="765.5" stroke="#d8d8d8" stroke-width="2"/>
<text transform="translate(977.02,791) rotate(-90)" text-anchor="end" class="ax">05/2021</text>
<line x1="1010.71" y1="757.00" x2="1010.71" y2="765.5" stroke="#d8d8d8" stroke-width="2"/>
<text transform="translate(1017.01,791) rotate(-90)" text-anchor="end" class="ax">07/2021</text>
<line x1="1050.70" y1="757.00" x2="1050.70" y2="765.5" stroke="#d8d8d8" stroke-width="2"/>
<text transform="translate(1057.00,791) rotate(-90)" text-anchor="end" class="ax">09/2021</text>
<line x1="1090.69" y1="757.00" x2="1090.69" y2="765.5" stroke="#d8d8d8" stroke-width="2"/>
<text transform="translate(1096.99,791) rotate(-90)" text-anchor="end" class="ax">11/2021</text>
<line x1="1130.68" y1="757.00" x2="1130.68" y2="765.5" stroke="#d8d8d8" stroke-width="2"/>
<text transform="translate(1136.98,791) rotate(-90)" text-anchor="end" class="ax">01/2022</text>
<text x="1162.5" y="314.10" class="ax">90</text>
<text x="1162.5" y="378.59" class="ax">80</text>
<text x="1162.5" y="443.08" class="ax">70</text>
<text x="1162.5" y="507.57" class="ax">60</text>
<text x="1162.5" y="572.06" class="ax">50</text>
<text x="1162.5" y="636.55" class="ax">40</text>
<text x="1162.5" y="701.04" class="ax">30</text>
<text x="1162.5" y="765.53" class="ax">20</text>
<polyline points="651.5,446.0 652.0,443.3 652.5,442.7 653.0,440.0 653.5,440.6 654.0,443.6 654.5,443.7 655.0,446.0 655.5,447.7 656.0,447.4 656.5,449.8 657.0,450.0 657.4,448.9 657.9,449.8 658.3,447.9 658.8,448.0 659.2,448.4 659.8,446.7 660.2,448.2 660.8,447.0 661.2,446.0 661.8,447.0 662.2,446.0 662.7,445.6 663.1,448.0 663.6,446.7 664.0,448.8 664.5,448.5 665.0,448.1 665.4,450.3 665.9,449.4 666.3,451.6 666.8,451.5 667.2,451.7 667.6,453.9 668.1,453.5 668.5,456.0 669.0,456.0 669.5,455.9 669.9,458.0 670.4,456.9 670.8,459.1 671.2,459.0 671.7,457.3 672.1,457.8 672.6,455.7 673.0,456.1 673.5,454.5 674.0,451.6 674.5,451.3 675.0,448.5 675.5,447.4 675.9,448.6 676.3,446.6 676.8,447.0 677.3,447.3 677.8,445.3 678.3,446.8 678.8,445.5 679.2,445.1 679.6,446.9 680.1,445.6 680.5,447.7 681.0,447.0 681.5,445.8 681.9,447.1 682.4,445.1 682.8,446.4 683.2,445.5 683.8,445.7 684.2,448.4 684.8,448.5 685.2,451.3 685.8,456.3 686.2,459.0 686.8,462.9 687.2,468.9 687.8,472.5 688.2,477.1 688.8,484.3 689.2,489.0 689.8,486.5 690.2,486.7 690.8,484.5 691.2,480.6 691.8,479.3 692.2,475.5 692.8,477.2 693.2,481.3 693.8,483.0 694.2,487.1 694.8,494.0 695.2,498.0 695.8,499.2 696.2,502.9 696.8,504.0 697.2,507.4 697.8,512.9 698.2,516.0 698.6,522.1 698.9,531.0 699.3,537.0 699.7,539.6 700.1,544.7 700.5,547.5 701.0,549.2 701.5,553.4 702.0,555.0 702.5,557.4 703.0,561.8 703.5,564.0 704.0,567.6 704.5,573.1 705.0,576.8 705.5,568.9 706.0,563.2 706.5,555.0 706.9,547.3 707.3,541.7 707.7,534.0 708.2,534.2 708.7,536.9 709.2,537.0 709.7,538.2 710.1,541.5 710.5,541.8 711.0,544.5 711.5,547.0 712.0,546.6 712.5,549.0 713.0,545.9 713.5,540.3 714.0,537.0 714.5,533.8 715.0,528.3 715.5,525.0 716.0,524.0 716.5,520.0 717.0,519.0 717.5,518.7 718.0,516.3 718.5,516.0 719.0,518.2 719.5,518.3 720.0,520.5 720.5,519.3 721.0,515.7 721.5,514.5 722.0,516.2 722.5,515.9 723.0,517.5 723.5,520.8 724.0,521.8 724.5,525.0 725.0,522.8 725.5,518.0 726.0,516.0 726.5,514.9 727.0,511.2 727.5,510.0 728.0,509.3 728.4,506.1 728.8,506.1 729.3,504.0 729.8,504.9 730.3,508.7 730.8,508.7 731.2,511.5 731.7,513.0 732.1,511.9 732.6,514.1 733.0,513.3 733.5,514.5 734.0,513.4 734.5,509.9 735.0,508.5 735.5,508.1 736.0,505.8 736.5,505.5 737.0,507.7 737.4,507.8 737.9,510.6 738.3,510.9 738.8,513.0 739.2,512.5 739.6,510.0 740.1,510.1 740.5,507.6 741.0,507.0 741.5,506.7 741.9,503.8 742.4,504.1 742.8,501.5 743.2,501.0 743.7,502.0 744.1,500.9 744.6,502.5 745.0,501.3 745.5,502.5 746.0,502.0 746.5,498.7 747.0,498.0 747.5,497.3 748.0,494.4 748.5,493.5 749.0,492.6 749.5,489.8 750.0,489.0 750.5,488.2 750.9,485.1 751.3,485.2 751.8,483.0 752.3,480.4 752.8,480.0 753.3,477.0 753.8,474.7 754.3,474.7 754.8,471.7 755.2,471.0 755.8,476.0 756.2,478.9 756.8,485.1 757.2,488.5 757.7,487.6 758.1,489.4 758.6,487.8 759.0,489.2 759.5,488.5 760.0,486.3 760.4,486.4 760.9,483.2 761.3,483.4 761.8,481.0 762.2,479.7 762.6,480.5 763.1,478.3 763.5,479.6 764.0,478.0 764.5,476.7 764.9,478.2 765.3,475.9 765.8,476.5 766.3,480.4 766.8,481.8 767.3,486.3 767.8,488.5 768.2,486.9 768.6,487.3 769.1,485.2 769.5,485.6 770.0,484.0 770.5,481.3 771.0,480.9 771.5,478.0 772.0,475.0 772.5,474.8 773.0,472.0 773.5,470.7 773.9,472.4 774.4,470.1 774.8,471.5 775.2,470.5 775.7,470.1 776.1,471.8 776.6,470.7 777.0,472.4 777.5,472.0 778.0,470.7 778.4,472.1 778.9,469.7 779.3,471.0 779.8,469.8 780.2,468.1 780.6,469.2 781.1,466.9 781.5,467.6 782.0,466.0 782.5,464.1 782.9,465.1 783.4,462.4 783.8,463.2 784.2,461.5 784.7,461.9 785.1,464.5 785.6,463.9 786.0,466.6 786.5,466.8 787.0,465.3 787.4,466.6 787.9,464.6 788.3,465.9 788.8,464.5 789.2,462.7 789.6,463.4 790.1,461.1 790.5,461.6 791.0,460.0 791.5,458.4 791.9,459.7 792.4,457.5 792.8,458.5 793.2,457.0 793.7,456.0 794.1,457.9 794.6,456.3 795.0,457.8 795.5,457.0 796.0,455.4 796.4,455.8 796.9,453.3 797.3,454.3 797.8,452.5 798.2,451.7 798.6,453.5 799.1,451.7 799.5,453.4 800.0,452.5 800.5,451.0 800.9,452.0 801.4,450.0 801.8,450.8 802.2,449.5 802.7,449.1 803.1,450.9 803.6,449.7 804.0,451.5 804.5,451.0 805.0,449.1 805.4,449.6 805.9,446.7 806.3,447.0 806.8,445.0 807.2,443.0 807.7,443.7 808.2,440.9 808.7,440.5 809.2,441.8 809.6,440.4 810.0,442.4 810.5,442.0 811.0,439.2 811.5,438.6 812.0,436.0 812.5,438.7 813.0,443.7 813.5,446.5 814.0,448.4 814.5,452.4 815.0,454.0 815.5,454.3 816.0,456.8 816.5,457.0 817.0,454.6 817.5,454.8 818.0,452.5 818.5,450.8 819.0,451.3 819.5,449.5 820.0,448.7 820.5,450.4 821.0,449.5 821.5,450.9 822.0,454.3 822.5,455.5 823.0,455.6 823.4,457.7 823.8,456.8 824.3,458.5 824.8,460.4 825.3,459.9 825.8,462.8 826.2,463.0 826.7,461.1 827.1,462.0 827.6,459.5 828.0,460.2 828.5,458.5 829.0,457.1 829.4,458.2 829.9,455.9 830.3,456.9 830.8,455.5 831.2,454.1 831.6,455.3 832.1,452.8 832.5,454.1 833.0,452.5 833.5,450.0 834.0,450.2 834.5,448.0 835.0,445.7 835.4,446.0 835.9,442.6 836.3,442.7 836.8,440.5 837.2,438.9 837.8,439.3 838.2,437.5 838.7,437.8 839.1,440.0 839.6,439.6 840.0,442.0 840.5,442.0 841.0,441.7 841.4,444.2 841.9,443.1 842.3,445.3 842.8,445.0 843.2,444.1 843.6,445.7 844.1,444.0 844.5,446.0 845.0,445.0 845.5,445.1 845.9,447.5 846.3,446.5 846.8,448.0 847.3,451.0 847.8,451.5 848.3,455.7 848.8,457.0 849.1,459.3 849.4,463.8 849.8,466.0 850.2,464.2 850.6,464.7 851.0,463.0 851.4,458.8 851.8,456.7 852.2,452.5 852.6,447.6 852.9,445.1 853.2,440.5 853.7,438.2 854.2,438.3 854.7,435.4 855.2,434.5 855.7,434.1 856.1,431.4 856.5,431.9 857.0,430.0 857.5,428.9 858.0,430.0 858.5,428.5 859.0,426.1 859.5,426.5 860.0,424.0 860.5,423.7 860.9,425.5 861.3,424.5 861.8,425.5 862.3,425.8 862.8,423.7 863.3,424.5 863.8,423.2 864.2,422.0 864.6,423.3 865.1,421.0 865.5,422.2 866.0,421.0 866.5,419.6 866.9,420.5 867.3,417.9 867.8,418.0 868.2,419.2 868.7,418.0 869.1,419.5 869.6,418.3 870.0,419.5 870.5,419.1 870.9,416.5 871.4,416.9 871.8,413.8 872.2,413.5 872.7,413.8 873.1,411.7 873.6,412.6 874.0,410.5 874.5,410.5 875.0,411.7 875.4,410.3 875.9,412.1 876.3,410.9 876.8,412.0 877.2,413.3 877.6,411.9 878.1,413.6 878.5,412.4 879.0,413.5 879.5,412.4 879.9,409.3 880.4,408.8 880.8,405.7 881.2,404.5 881.7,406.1 882.1,405.6 882.6,407.9 883.0,407.2 883.5,409.0 884.0,409.1 884.4,407.0 884.9,407.9 885.3,405.9 885.8,406.0 886.2,406.0 886.6,404.1 887.1,404.8 887.5,402.7 888.0,403.0 888.5,403.6 889.0,401.8 889.5,403.0 890.0,401.0 890.5,402.4 891.0,401.5 891.5,400.9 891.9,402.9 892.4,401.6 892.8,403.6 893.2,403.0 893.7,399.8 894.1,399.0 894.6,394.9 895.0,394.4 895.5,391.0 896.0,390.0 896.4,391.3 896.9,389.2 897.3,390.7 897.8,389.5 898.2,389.6 898.6,392.0 899.1,391.6 899.5,393.8 900.0,394.0 900.5,393.7 900.9,395.5 901.4,394.2 901.8,395.9 902.2,395.5 902.7,393.1 903.1,392.8 903.6,389.2 904.0,389.2 904.5,386.5 905.0,386.1 905.4,387.8 905.9,386.7 906.3,388.5 906.8,388.0 907.2,390.0 907.6,394.2 908.1,395.4 908.5,399.8 909.0,401.5 909.4,401.5 909.8,404.3 910.2,404.5 910.7,400.8 911.1,399.5 911.5,394.8 912.0,392.5 912.5,391.7 912.9,388.9 913.4,388.8 913.8,385.7 914.2,385.0 914.7,384.9 915.1,382.5 915.6,383.1 916.0,380.8 916.5,380.5 917.0,380.6 917.4,378.7 917.9,379.5 918.3,377.5 918.8,377.5 919.2,377.9 919.6,376.3 920.0,377.4 920.4,375.7 920.9,377.1 921.3,376.0 921.8,375.8 922.3,378.4 922.8,377.4 923.2,379.0 923.7,380.9 924.1,380.0 924.6,382.4 925.0,381.6 925.5,383.5 926.0,385.4 926.4,385.0 926.9,388.0 927.3,387.7 927.8,389.5 928.2,389.3 928.7,386.3 929.2,387.0 929.7,385.0 930.2,386.7 930.6,391.2 931.0,392.2 931.5,395.5 932.0,396.7 932.4,395.4 932.8,397.6 933.3,397.0 933.8,395.7 934.3,397.2 934.8,395.0 935.2,395.5 935.8,392.5 936.2,386.6 936.8,383.5 937.2,383.4 937.8,380.8 938.2,380.5 938.7,381.4 939.1,380.4 939.6,382.1 940.0,381.1 940.5,382.0 941.0,383.2 941.4,381.8 941.9,383.8 942.3,382.3 942.8,383.5 943.2,385.9 943.6,385.7 944.1,388.6 944.5,388.6 945.0,391.0 945.5,390.8 945.9,387.9 946.3,388.4 946.8,386.5 947.3,384.9 947.8,385.6 948.3,383.4 948.8,383.5 949.2,383.3 949.6,381.1 950.1,381.5 950.5,379.0 951.0,379.0 951.5,378.8 951.9,376.3 952.4,377.3 952.8,374.6 953.2,374.5 953.7,374.4 954.1,371.9 954.6,372.7 955.0,370.0 955.5,370.0 956.0,370.3 956.5,368.1 957.0,369.1 957.5,367.3 958.0,368.2 958.5,367.0 959.0,365.2 959.4,365.9 959.9,363.5 960.3,364.0 960.8,362.5 961.2,362.5 961.6,364.4 962.1,363.4 962.5,365.8 963.0,365.5 963.5,364.3 963.9,365.6 964.4,363.8 964.8,365.1 965.2,364.0 965.7,362.8 966.1,363.7 966.6,361.7 967.0,362.9 967.5,361.8 968.0,360.5 968.4,362.1 968.9,360.2 969.3,361.3 969.8,360.2 970.2,360.4 970.6,363.3 971.1,362.6 971.5,365.2 972.0,365.5 972.5,363.3 972.9,363.5 973.4,360.3 973.8,360.3 974.2,358.0 974.7,359.6 975.2,363.3 975.7,363.8 976.2,367.0 976.7,370.4 977.2,371.6 977.7,375.2 978.2,374.7 978.6,371.7 979.0,372.2 979.5,370.0 980.0,369.0 980.4,370.4 980.9,368.3 981.3,369.4 981.8,368.5 982.2,367.0 982.6,367.5 983.1,365.0 983.5,365.6 984.0,364.0 984.5,362.7 984.9,363.5 985.4,361.5 985.8,362.5 986.2,361.0 986.7,359.8 987.1,360.7 987.6,358.2 988.0,358.5 988.5,358.9 989.0,357.0 989.5,358.6 990.0,356.5 990.5,358.0 991.0,357.0 991.5,356.0 991.9,357.2 992.4,355.1 992.8,356.6 993.2,355.5 993.7,354.5 994.1,355.7 994.6,353.9 995.0,354.9 995.5,354.0 996.0,353.1 996.4,354.3 996.9,352.4 997.3,353.8 997.8,352.5 998.2,352.1 998.6,353.8 999.1,352.6 999.5,354.4 1000.0,354.0 1000.5,355.1 1000.9,358.7 1001.3,358.7 1001.8,361.5 1002.3,360.9 1002.8,357.6 1003.3,358.0 1003.8,355.5 1004.2,353.8 1004.6,354.8 1005.1,352.4 1005.5,353.1 1006.0,351.8 1006.5,350.7 1006.9,352.2 1007.4,350.4 1007.8,352.0 1008.2,351.0 1008.7,350.0 1009.1,351.0 1009.6,349.1 1010.0,350.5 1010.5,349.5 1011.0,348.6 1011.4,349.9 1011.9,348.3 1012.3,349.8 1012.8,348.8 1013.2,348.5 1013.6,351.0 1014.1,350.1 1014.5,352.5 1015.0,352.5 1015.5,350.8 1015.9,351.5 1016.4,349.1 1016.8,349.6 1017.2,348.0 1017.7,347.6 1018.1,349.6 1018.6,348.1 1019.0,349.9 1019.5,349.5 1020.0,350.8 1020.4,355.0 1020.9,355.5 1021.3,359.2 1021.8,360.8 1022.2,357.3 1022.7,355.8 1023.2,351.6 1023.7,349.5 1024.2,349.8 1024.6,348.1 1025.0,349.1 1025.5,348.0 1026.0,347.2 1026.4,349.0 1026.8,347.1 1027.3,348.8 1027.8,348.0 1028.2,346.9 1028.7,348.2 1029.1,346.3 1029.5,347.5 1030.0,346.5 1030.5,345.6 1030.9,346.6 1031.3,344.6 1031.8,346.0 1032.2,345.0 1032.7,343.9 1033.2,345.3 1033.6,343.2 1034.0,344.5 1034.5,343.5 1035.0,342.6 1035.4,343.9 1035.8,342.3 1036.3,343.7 1036.8,342.8 1037.2,341.6 1037.7,343.4 1038.1,341.4 1038.5,342.8 1039.0,342.0 1039.5,342.0 1039.9,344.1 1040.3,342.8 1040.8,345.2 1041.2,345.0 1041.8,346.7 1042.2,350.6 1042.8,352.5 1043.2,349.9 1043.7,349.7 1044.2,345.9 1044.7,345.0 1045.2,345.6 1045.6,343.3 1046.0,344.6 1046.5,343.5 1047.0,342.3 1047.4,343.0 1047.8,340.9 1048.3,342.0 1048.8,340.5 1049.2,338.9 1049.7,340.2 1050.1,337.8 1050.5,339.0 1051.0,337.5 1051.5,336.1 1051.9,337.1 1052.3,335.0 1052.8,335.9 1053.2,333.7 1053.7,333.8 1054.2,335.7 1054.6,334.8 1055.0,337.3 1055.5,337.5 1056.0,337.4 1056.4,339.4 1056.8,338.4 1057.3,340.8 1057.8,340.5 1058.2,340.2 1058.7,341.7 1059.1,340.6 1059.5,342.5 1060.0,342.0 1060.5,341.8 1060.9,343.9 1061.3,343.0 1061.8,345.0 1062.2,345.0 1062.8,346.8 1063.2,350.8 1063.8,352.5 1064.2,349.6 1064.7,349.6 1065.2,345.9 1065.7,345.0 1066.2,346.9 1066.6,346.6 1067.0,349.1 1067.5,349.5 1068.0,351.5 1068.5,356.4 1069.0,358.5 1069.5,357.5 1069.9,358.5 1070.3,356.8 1070.8,358.2 1071.2,357.0 1071.7,355.6 1072.2,356.5 1072.6,354.3 1073.0,355.6 1073.5,354.0 1074.0,352.4 1074.4,352.8 1074.8,350.6 1075.3,351.2 1075.8,349.5 1076.2,350.1 1076.7,353.2 1077.1,353.1 1077.5,356.4 1078.0,357.0 1078.5,352.2 1079.0,349.7 1079.5,345.0 1080.0,342.0 1080.5,341.7 1081.0,339.0 1081.5,337.5 1081.9,338.5 1082.3,336.5 1082.8,337.5 1083.2,336.0 1083.7,335.0 1084.2,336.4 1084.6,334.3 1085.0,335.5 1085.5,334.5 1086.0,333.6 1086.5,334.8 1087.0,332.9 1087.5,334.5 1088.0,332.6 1088.5,333.0 1089.0,333.5 1089.4,331.7 1089.8,333.1 1090.3,331.1 1090.8,331.5 1091.2,331.5 1091.7,329.7 1092.1,330.5 1092.5,328.1 1093.0,328.5 1093.5,329.3 1093.9,327.2 1094.3,329.0 1094.8,326.8 1095.2,327.6 1095.7,329.2 1096.1,328.7 1096.5,331.2 1097.0,330.2 1097.4,332.0 1097.8,331.6 1098.2,329.1 1098.7,329.8 1099.1,327.3 1099.5,327.0 1100.0,327.7 1100.5,326.2 1100.9,327.4 1101.4,326.8 1101.8,326.7 1102.3,328.9 1102.7,327.9 1103.1,330.2 1103.6,329.3 1104.0,331.0 1104.5,332.4 1105.0,331.7 1105.5,334.1 1106.0,333.0 1106.5,335.4 1107.0,335.4 1107.5,336.6 1107.9,339.7 1108.3,340.0 1108.8,342.5 1109.2,344.9 1109.7,344.6 1110.1,347.4 1110.6,347.1 1111.0,349.5 1111.4,349.7 1111.9,347.9 1112.3,349.1 1112.8,347.8 1113.2,343.6 1113.6,341.8 1114.1,337.3 1114.5,334.6 1114.9,335.2 1115.4,333.6 1115.8,335.3 1116.2,334.6 1116.7,335.0 1117.1,338.2 1117.6,337.8 1118.0,339.9 1118.4,341.1 1118.9,340.0 1119.3,342.3 1119.8,341.3 1120.2,342.5 1120.6,344.7 1121.1,344.4 1121.5,347.2 1121.9,347.2 1122.4,350.0 1122.8,350.4 1123.2,346.6 1123.7,345.6 1124.1,340.9 1124.6,339.0 1125.0,337.4 1125.4,333.9 1125.9,333.2 1126.3,330.2 1126.7,328.9 1127.2,330.5 1127.6,328.4 1128.1,329.6 1128.5,328.5 1128.9,327.7 1129.4,329.3 1129.8,327.5 1130.2,329.2 1130.7,327.6 1131.1,328.5 1131.5,329.1 1132.0,327.1 1132.4,328.6 1132.9,326.6 1133.3,327.2 1133.7,329.4 1134.2,329.4 1134.6,332.4 1135.1,332.2 1135.5,334.6 1135.9,335.8 1136.4,335.0 1136.8,337.1 1137.3,336.0 1137.7,337.2 1138.1,337.6 1138.6,336.1 1139.0,337.2 1139.4,335.4 1139.9,336.8 1140.3,335.5 1140.7,335.0 1141.2,337.4 1141.6,336.1 1142.0,337.2 1142.5,341.1 1142.9,343.0 1143.4,346.9 1143.8,351.5 1144.3,353.6 1144.7,358.2 1145.1,359.9 1145.6,359.3 1146.0,361.6 1146.5,360.9 1146.9,362.6 1147.4,365.5 1147.9,365.8 1148.4,368.8" fill="none" stroke="#abc6ea" stroke-width="3.5" stroke-linejoin="round" stroke-linecap="round"/>
<line x1="653.3" y1="467.6" x2="1105" y2="467.6" stroke="#595959" stroke-width="3.2" stroke-dasharray="12.6 10.64"/>
<polyline points="651.5,452.0 652.0,449.9 652.5,450.1 653.0,448.0 653.5,447.9 653.9,450.1 654.4,449.1 654.9,451.1 655.3,449.9 655.8,452.1 656.2,452.0 656.7,451.6 657.2,453.6 657.7,452.5 658.1,454.3 658.6,453.0 659.1,455.0 659.5,453.7 660.0,455.0 660.5,456.2 660.9,455.3 661.4,457.1 661.9,456.2 662.3,458.5 662.8,457.2 663.3,459.4 663.8,459.0 664.2,461.2 664.6,465.9 665.0,468.0 665.4,468.9 665.9,471.7 666.3,471.6 666.8,474.0 667.2,476.1 667.6,475.6 668.1,478.2 668.5,478.1 669.0,480.0 669.5,481.7 670.0,481.3 670.5,483.0 671.0,486.9 671.5,488.3 672.0,492.0 672.5,491.0 673.0,487.0 673.5,486.0 674.0,486.1 674.5,484.2 675.0,484.5 675.5,487.3 676.0,487.9 676.5,490.5 677.0,489.8 677.5,486.5 678.0,486.0 678.5,486.1 679.0,484.2 679.5,484.5 680.0,486.6 680.5,486.7 681.0,489.0 681.5,490.0 682.0,488.3 682.5,489.0 683.0,490.0 683.4,489.1 683.8,490.9 684.3,490.5 684.8,492.9 685.3,497.1 685.8,499.5 686.3,502.2 686.8,507.5 687.3,510.0 687.7,514.2 688.1,520.8 688.5,525.0 689.0,528.1 689.5,533.6 690.0,537.0 690.5,535.2 691.0,535.7 691.5,534.0 692.0,532.2 692.5,533.0 693.0,531.0 693.4,538.4 693.8,547.8 694.2,555.0 694.6,561.7 694.9,570.7 695.2,577.5 695.6,585.5 696.0,595.0 696.4,606.0 696.8,614.0 697.2,625.0 697.7,629.6 698.2,632.1 698.7,637.0 699.2,641.0 699.6,642.3 700.0,646.8 700.5,649.0 701.0,655.4 701.5,663.7 702.0,670.0 702.5,667.6 703.0,667.8 703.5,665.5 704.0,664.1 704.5,665.1 705.0,664.0 705.4,651.3 705.8,640.0 706.2,635.9 706.8,629.2 707.2,625.0 707.8,627.8 708.2,628.2 708.8,631.0 709.2,628.5 709.8,623.2 710.2,620.5 710.8,619.6 711.2,616.6 711.8,616.0 712.2,616.4 712.7,614.5 713.2,615.6 713.7,614.5 714.2,611.5 714.6,610.7 715.0,607.1 715.5,605.5 716.0,605.4 716.5,602.9 717.0,602.5 717.5,604.4 718.0,603.9 718.5,605.5 719.0,610.9 719.5,613.6 720.0,619.0 720.5,620.8 721.0,620.1 721.5,622.0 722.0,620.7 722.5,617.1 723.0,616.0 723.5,614.3 724.0,610.3 724.5,608.5 725.0,608.0 725.5,604.7 726.0,604.0 726.5,604.2 727.0,602.1 727.5,602.5 728.0,599.2 728.5,593.6 729.0,590.5 729.5,592.7 730.0,592.6 730.5,595.0 731.0,597.2 731.5,597.4 732.0,599.5 732.5,599.9 732.9,597.6 733.4,598.7 733.8,596.1 734.2,596.5 734.8,595.3 735.2,591.9 735.8,590.5 736.2,593.1 736.8,593.8 737.2,596.5 737.8,598.8 738.2,598.7 738.8,601.0 739.2,603.5 739.8,603.3 740.2,605.5 740.8,601.7 741.2,595.7 741.8,592.0 742.2,591.8 742.6,589.6 743.1,590.1 743.5,587.5 744.0,587.5 744.5,588.4 745.0,587.2 745.5,589.1 746.0,587.6 746.5,589.5 747.0,589.0 747.5,587.0 748.0,587.7 748.5,585.1 749.0,585.9 749.5,583.0 750.0,583.0 750.5,579.0 750.9,572.9 751.3,569.4 751.8,564.0 752.3,560.9 752.8,560.2 753.3,556.4 753.8,555.0 754.2,553.8 754.7,550.3 755.2,550.1 755.7,547.5 756.1,551.7 756.4,557.8 756.8,562.0 757.2,567.9 757.6,576.2 758.0,582.0 758.5,580.0 758.9,580.3 759.4,577.6 759.8,578.2 760.2,576.0 760.7,576.1 761.1,578.8 761.6,578.1 762.0,580.6 762.5,580.5 763.0,578.9 763.4,580.1 763.9,577.9 764.3,578.9 764.8,577.5 765.2,579.0 765.8,583.1 766.2,585.0 766.8,586.4 767.2,590.3 767.8,591.8 768.2,590.3 768.6,591.1 769.1,588.6 769.5,589.4 770.0,588.0 770.5,586.5 770.9,587.6 771.4,585.4 771.8,586.5 772.2,585.0 772.7,584.4 773.2,585.8 773.7,584.3 774.2,585.0 774.7,589.0 775.1,590.3 775.5,594.9 776.0,597.0 776.5,594.6 776.9,594.8 777.4,591.5 777.8,591.6 778.2,589.5 778.7,587.8 779.1,588.5 779.6,585.9 780.0,586.7 780.5,585.0 781.0,585.9 781.5,588.7 782.0,589.5 782.5,587.0 782.9,586.8 783.4,583.8 783.8,583.4 784.2,581.0 784.7,581.0 785.1,583.4 785.6,582.8 786.0,585.1 786.5,585.0 787.0,583.8 787.5,584.9 788.0,583.5 788.5,584.0 788.9,586.7 789.3,586.0 789.8,588.0 790.3,590.5 790.8,590.0 791.3,593.4 791.8,594.0 792.2,591.1 792.7,590.2 793.2,586.6 793.7,585.0 794.2,585.2 794.6,582.8 795.0,583.4 795.5,582.0 796.0,580.6 796.4,581.1 796.9,578.8 797.3,580.0 797.8,577.5 798.2,577.5 798.7,579.5 799.1,579.0 799.5,581.7 800.0,582.0 800.5,582.0 800.9,584.4 801.3,583.6 801.8,585.0 802.3,586.1 802.8,584.9 803.3,586.8 803.8,586.5 804.2,585.7 804.6,587.5 805.1,585.9 805.5,587.1 806.0,586.5 806.5,586.2 806.9,588.3 807.4,587.6 807.8,589.8 808.2,589.5 808.7,589.0 809.1,590.8 809.6,589.8 810.0,591.4 810.5,591.0 811.0,590.6 811.4,592.5 811.9,590.9 812.3,593.1 812.8,592.5 813.2,592.7 813.7,595.7 814.2,594.9 814.7,597.0 815.2,599.5 815.6,599.0 816.0,602.1 816.5,603.0 817.0,602.6 817.4,604.3 817.9,603.1 818.3,605.0 818.8,604.5 819.2,603.2 819.6,604.2 820.1,601.9 820.5,602.8 821.0,601.5 821.5,601.5 821.9,603.8 822.3,602.9 822.8,604.5 823.3,607.6 823.8,608.2 824.3,611.9 824.8,613.5 825.2,613.9 825.7,616.5 826.2,616.2 826.7,618.0 827.2,617.7 827.6,615.1 828.0,615.5 828.5,613.5 829.0,613.6 829.5,616.2 830.0,616.5 830.5,616.6 831.0,619.2 831.5,619.5 832.0,619.2 832.5,621.3 833.0,621.0 833.5,619.5 833.9,620.8 834.4,618.3 834.8,619.3 835.2,618.0 835.7,616.6 836.1,617.5 836.6,615.6 837.0,616.4 837.5,615.0 838.0,614.5 838.4,616.5 838.9,615.2 839.3,617.1 839.8,616.5 840.2,616.8 840.7,619.4 841.2,619.0 841.7,621.0 842.2,622.5 842.6,621.7 843.0,623.9 843.5,624.0 844.0,623.9 844.5,626.0 845.0,625.5 845.5,624.4 846.0,625.2 846.5,624.0 847.0,623.9 847.4,625.8 847.9,624.9 848.3,627.4 848.8,627.0 849.2,625.5 849.6,626.6 850.1,624.2 850.5,625.4 851.0,624.0 851.5,622.6 852.0,623.4 852.5,621.0 853.0,621.7 853.5,619.5 854.0,619.5 854.5,617.0 854.9,612.2 855.4,610.4 855.8,605.4 856.2,603.0 856.7,602.3 857.2,599.4 857.7,599.4 858.2,597.0 858.7,594.9 859.1,594.8 859.5,591.6 860.0,591.0 860.5,591.1 860.9,588.5 861.3,589.7 861.8,588.0 862.3,586.2 862.8,586.4 863.3,583.8 863.8,583.5 864.2,581.7 864.6,577.4 865.1,576.1 865.5,571.8 866.0,570.0 866.5,570.4 866.9,568.6 867.4,569.9 867.8,567.8 868.2,568.5 868.7,572.1 869.1,573.8 869.6,578.4 870.0,579.6 870.5,583.5 871.0,580.8 871.4,576.1 871.8,574.1 872.3,570.0 872.7,567.7 873.1,568.0 873.5,565.5 873.9,565.2 874.4,566.9 874.8,565.8 875.2,567.0 875.7,568.1 876.1,566.7 876.6,568.9 877.0,567.2 877.5,568.5 878.0,568.8 878.4,566.5 878.9,567.3 879.3,565.2 879.8,565.5 880.2,566.9 880.6,565.9 881.1,568.2 881.5,566.9 882.0,568.5 882.5,571.2 882.9,571.3 883.3,575.1 883.8,576.0 884.2,576.4 884.6,578.7 885.0,579.0 885.5,577.1 885.9,578.1 886.4,575.3 886.8,576.1 887.2,574.5 887.7,573.7 888.1,575.5 888.6,573.7 889.0,575.4 889.5,574.5 890.0,573.4 890.4,574.9 890.9,573.4 891.3,574.8 891.8,573.8 892.2,572.8 892.6,574.1 893.1,572.4 893.5,573.9 894.0,573.0 894.4,567.8 894.8,564.0 895.2,561.2 895.8,556.4 896.2,553.5 896.7,553.7 897.1,551.4 897.6,552.5 898.0,550.1 898.5,550.5 899.0,548.1 899.5,543.8 900.0,541.5 900.5,544.7 901.0,545.7 901.5,549.0 902.0,548.7 902.5,546.1 903.0,546.0 903.5,546.8 903.9,545.2 904.3,546.9 904.8,546.0 905.3,548.1 905.8,553.0 906.3,555.0 906.8,556.3 907.3,559.8 907.8,561.0 908.3,562.0 908.8,565.8 909.3,567.0 909.8,567.3 910.3,569.8 910.8,570.0 911.3,568.2 911.8,568.7 912.3,565.8 912.8,565.5 913.2,564.3 913.7,560.8 914.2,560.7 914.7,558.0 915.2,555.8 915.6,555.8 916.0,552.5 916.5,552.0 917.0,552.1 917.4,550.2 917.9,550.9 918.3,549.0 918.8,549.0 919.2,548.7 919.7,546.0 920.2,546.6 920.7,544.5 921.2,542.7 921.6,542.9 922.0,540.3 922.5,540.0 923.0,540.3 923.4,538.7 923.9,539.8 924.3,538.1 924.8,538.5 925.2,536.7 925.7,532.3 926.2,531.4 926.7,528.0 927.2,529.4 927.6,533.2 928.0,533.8 928.5,537.0 929.0,535.8 929.5,532.4 930.0,531.0 930.5,529.9 931.0,526.3 931.5,525.0 931.9,523.1 932.3,519.4 932.7,517.5 933.2,518.1 933.6,515.9 934.0,517.1 934.5,516.0 935.0,514.7 935.5,515.9 936.0,514.5 936.5,512.4 937.0,512.4 937.5,510.0 938.0,509.6 938.5,512.0 939.0,511.5 939.5,512.9 940.0,516.3 940.5,517.5 941.0,519.7 941.5,524.4 942.0,526.5 942.5,526.8 943.0,529.4 943.5,529.5 943.9,530.0 944.3,533.2 944.7,534.0 945.2,531.3 945.6,531.2 946.0,527.8 946.5,526.5 947.0,527.8 947.4,526.4 947.9,528.2 948.3,527.0 948.8,528.0 949.2,529.2 949.6,527.8 950.1,529.8 950.5,528.6 951.0,529.5 951.5,530.8 951.9,529.2 952.4,531.3 952.8,530.0 953.2,531.0 953.7,532.3 954.1,531.4 954.6,533.4 955.0,532.4 955.5,534.0 956.0,535.4 956.4,534.2 956.9,536.5 957.3,535.5 957.8,537.0 958.2,536.4 958.7,533.1 959.2,533.3 959.7,531.0 960.2,531.1 960.6,533.3 961.0,532.5 961.5,534.0 962.0,535.9 962.4,534.8 962.9,537.7 963.3,536.6 963.8,538.5 964.2,538.6 964.6,536.7 965.1,537.4 965.5,535.5 966.0,535.5 966.5,535.0 966.9,532.4 967.3,532.8 967.8,531.0 968.3,528.2 968.8,527.8 969.3,525.0 969.8,525.8 970.3,529.0 970.8,529.5 971.3,527.0 971.8,526.7 972.3,523.1 972.8,522.0 973.2,519.9 973.8,515.3 974.2,513.0 974.7,513.1 975.2,510.5 975.7,511.4 976.2,510.0 976.7,511.5 977.1,515.4 977.5,516.0 978.0,519.0 978.5,517.9 979.0,514.1 979.5,513.0 980.0,511.7 980.5,508.1 981.0,507.0 981.5,510.2 981.9,510.7 982.3,514.6 982.8,516.0 983.3,515.1 983.8,516.8 984.3,515.4 984.8,516.0 985.2,517.2 985.8,515.9 986.2,518.1 986.8,517.0 987.2,518.0 987.8,518.3 988.2,516.2 988.8,517.3 989.2,515.3 989.8,516.4 990.2,515.0 990.8,509.1 991.2,505.8 991.8,500.0 992.2,498.4 992.6,499.6 993.1,497.6 993.5,498.3 994.0,497.0 994.5,496.0 995.0,497.3 995.5,495.5 996.0,497.2 996.5,495.3 997.0,496.0 997.5,496.1 997.9,494.2 998.4,495.2 998.8,492.9 999.2,493.9 999.7,492.5 1000.2,494.2 1000.7,498.4 1001.2,500.0 1001.7,503.3 1002.2,508.9 1002.7,512.0 1003.2,508.7 1003.6,507.7 1004.0,503.2 1004.5,501.5 1005.0,501.1 1005.4,498.5 1005.8,499.1 1006.3,497.0 1006.8,498.3 1007.3,501.9 1007.8,503.0 1008.3,503.5 1008.8,507.0 1009.3,507.5 1009.8,505.3 1010.3,505.4 1010.8,503.0 1011.3,501.8 1011.8,503.2 1012.3,501.2 1012.8,501.5 1013.2,504.8 1013.8,505.7 1014.2,509.0 1014.8,511.9 1015.2,512.2 1015.8,515.0 1016.2,514.6 1016.8,512.3 1017.2,512.0 1017.8,514.4 1018.2,514.0 1018.8,516.5 1019.2,520.8 1019.8,522.9 1020.2,527.0 1020.7,530.9 1021.2,532.1 1021.7,536.7 1022.2,539.0 1022.7,535.2 1023.2,533.7 1023.7,530.0 1024.2,529.4 1024.6,530.9 1025.0,529.3 1025.5,530.0 1026.0,529.1 1026.5,526.0 1027.0,525.5 1027.5,525.0 1027.9,522.3 1028.3,523.1 1028.8,521.0 1029.3,521.0 1029.8,523.2 1030.3,522.6 1030.8,524.0 1031.2,525.6 1031.7,524.5 1032.2,527.1 1032.7,527.0 1033.2,525.5 1033.6,526.3 1034.0,524.0 1034.5,524.0 1035.0,525.4 1035.5,524.3 1036.0,525.5 1036.5,525.1 1036.9,522.4 1037.3,522.8 1037.8,521.0 1038.3,521.5 1038.8,524.9 1039.3,525.5 1039.8,526.0 1040.3,528.4 1040.8,528.0 1041.2,530.0 1041.8,535.2 1042.2,538.2 1042.8,543.5 1043.2,542.3 1043.8,538.6 1044.2,537.5 1044.8,536.3 1045.2,532.7 1045.8,531.5 1046.2,530.9 1046.8,527.8 1047.2,527.0 1047.7,527.4 1048.2,525.3 1048.7,526.6 1049.2,525.5 1049.7,525.3 1050.1,527.6 1050.5,527.1 1051.0,528.5 1051.5,528.0 1051.9,525.3 1052.3,525.6 1052.8,523.0 1053.2,522.5 1053.7,523.6 1054.2,522.1 1054.6,524.4 1055.0,522.8 1055.5,524.0 1056.0,525.7 1056.5,525.2 1057.0,527.0 1057.5,525.7 1058.0,522.4 1058.5,521.0 1059.0,520.4 1059.4,517.3 1059.8,517.2 1060.3,515.0 1060.8,516.1 1061.3,519.6 1061.8,521.0 1062.3,522.2 1062.8,525.4 1063.3,525.7 1063.8,528.5 1064.2,523.4 1064.8,515.8 1065.2,510.5 1065.8,508.6 1066.2,504.5 1066.8,503.0 1067.2,502.7 1067.8,500.1 1068.2,500.0 1068.7,500.9 1069.2,499.2 1069.7,500.8 1070.2,500.0 1070.7,497.2 1071.2,496.7 1071.7,494.0 1072.2,491.6 1072.6,491.7 1073.0,488.7 1073.5,488.0 1074.0,486.7 1074.5,483.3 1075.0,482.0 1075.5,482.7 1075.9,480.6 1076.3,482.0 1076.8,479.9 1077.2,480.5 1077.7,479.6 1078.2,476.6 1078.6,476.9 1079.0,473.6 1079.5,473.0 1080.0,473.2 1080.4,470.9 1080.8,472.2 1081.3,469.9 1081.8,470.0 1082.2,470.3 1082.7,468.5 1083.2,469.5 1083.7,468.5 1084.2,469.3 1084.6,472.1 1085.0,472.4 1085.5,474.5 1086.0,474.1 1086.4,471.6 1086.8,471.9 1087.3,470.0 1087.8,470.9 1088.3,474.6 1088.8,475.0 1089.2,477.5 1089.8,478.9 1090.2,477.8 1090.8,479.0 1091.2,481.3 1091.7,480.9 1092.2,483.1 1092.7,482.8 1093.1,480.2 1093.5,480.8 1094.0,478.8 1094.4,477.7 1094.8,479.0 1095.3,477.0 1095.7,478.0 1096.1,477.0 1096.5,478.1 1097.0,481.1 1097.5,481.3 1097.9,484.0 1098.3,485.3 1098.8,484.3 1099.2,485.8 1099.7,486.1 1100.1,484.3 1100.5,485.7 1101.0,484.4 1101.4,486.9 1101.8,491.8 1102.2,494.5 1102.7,496.2 1103.1,499.8 1103.5,500.2 1104.0,498.7 1104.5,500.0 1104.9,498.9 1105.3,494.7 1105.8,493.4 1106.2,489.2 1106.6,492.8 1107.1,499.0 1107.5,502.4 1107.9,502.0 1108.4,504.4 1108.8,504.1 1109.3,504.3 1109.8,506.7 1110.3,506.8 1110.8,504.5 1111.2,504.7 1111.7,502.4 1112.2,500.5 1112.7,500.7 1113.2,498.9 1113.6,496.1 1114.1,495.4 1114.5,491.8 1114.9,490.6 1115.4,492.8 1115.8,492.4 1116.2,494.5 1116.7,496.5 1117.1,496.2 1117.6,499.2 1118.0,499.8 1118.4,499.4 1118.8,501.3 1119.2,500.1 1119.6,501.5 1120.1,502.3 1120.6,500.7 1121.1,501.5 1121.5,504.4 1121.9,505.1 1122.4,508.9 1122.8,510.2 1123.2,507.3 1123.7,506.8 1124.1,503.0 1124.6,501.5 1125.0,501.2 1125.5,498.3 1125.9,498.0 1126.3,497.8 1126.8,495.3 1127.2,496.0 1127.6,494.5 1128.0,493.8 1128.5,495.4 1129.0,493.9 1129.4,494.5 1129.8,495.5 1130.3,494.3 1130.7,495.4 1131.1,495.5 1131.6,492.6 1132.0,492.8 1132.5,489.9 1132.9,485.8 1133.3,481.8 1133.8,479.6 1134.2,477.9 1134.6,474.4 1135.0,472.4 1135.5,472.8 1135.9,470.9 1136.4,469.9 1136.8,470.9 1137.2,470.0 1137.7,466.4 1138.1,464.0 1138.5,460.7 1139.0,456.1 1139.4,454.0 1139.9,454.6 1140.3,452.6 1140.7,452.0 1141.2,453.6 1141.6,451.6 1142.1,453.4 1142.5,452.6 1142.9,453.4 1143.4,456.6 1143.8,456.3 1144.2,458.8 1144.7,462.1 1145.1,462.9 1145.6,466.9 1146.0,468.4 1146.4,464.4 1146.9,462.6 1147.3,458.8 1147.7,456.1 1148.0,455.4 1148.4,452.6" fill="none" stroke="#0b6fcc" stroke-width="3.5" stroke-linejoin="round" stroke-linecap="round"/>
<polyline points="651.8,459.0 652.2,452.2 652.8,447.8 653.2,441.0 653.7,440.7 654.1,443.1 654.5,443.0 655.0,450.2 655.5,459.0 655.9,462.8 656.2,465.0 656.8,465.3 657.2,467.8 657.8,468.0 658.2,468.1 658.8,470.9 659.2,471.0 659.8,471.0 660.2,473.1 660.8,473.0 661.2,470.0 661.8,469.3 662.2,466.0 662.8,464.8 663.2,466.0 663.8,465.0 664.1,469.0 664.4,476.0 664.8,480.0 665.2,484.1 665.6,490.8 666.0,495.0 666.5,496.3 667.0,499.6 667.5,501.0 668.0,501.2 668.5,503.6 669.0,504.0 669.5,505.3 670.0,508.7 670.5,510.0 671.0,513.4 671.5,518.8 672.0,522.0 672.4,525.2 672.8,530.9 673.2,534.0 673.7,532.2 674.2,532.9 674.7,531.0 675.2,532.2 675.7,535.9 676.2,537.0 676.7,538.2 677.2,541.7 677.7,543.0 678.2,536.0 678.7,532.0 679.2,525.0 679.7,521.1 680.2,519.9 680.7,516.0 681.2,514.5 681.6,515.2 682.0,513.0 682.5,513.0 683.0,511.1 683.5,507.1 684.0,505.5 684.4,507.8 684.8,507.6 685.2,510.0 685.7,514.8 686.2,517.0 686.7,522.0 687.2,527.9 687.7,531.4 688.2,537.0 688.7,545.2 689.2,551.0 689.7,559.5 690.2,557.8 690.7,553.5 691.2,552.0 691.7,554.8 692.2,555.4 692.7,558.0 693.1,565.4 693.4,570.1 693.8,577.5 694.1,589.5 694.5,600.0 694.8,640.0 695.2,647.4 695.6,656.7 696.0,664.0 696.5,665.0 697.0,668.9 697.5,670.0 698.0,671.9 698.5,675.7 699.0,677.5 699.5,681.9 700.0,688.1 700.5,692.5 700.9,702.6 701.3,715.2 701.7,725.5 702.1,717.7 702.4,712.3 702.8,704.5 703.2,706.3 703.8,710.4 704.2,712.0 704.7,710.6 705.1,711.4 705.6,709.1 706.0,709.0 706.4,713.5 706.9,715.8 707.3,721.0 707.7,724.0 708.2,728.0 708.7,734.9 709.2,739.0 709.7,735.3 710.2,734.0 710.7,730.0 711.1,714.3 711.4,700.8 711.8,685.0 712.1,674.3 712.5,665.5 713.0,667.9 713.5,667.9 714.0,670.0 714.5,673.0 715.0,673.3 715.5,676.0 716.0,678.7 716.5,679.1 717.0,682.0 717.5,683.0 717.9,681.9 718.4,683.5 718.8,682.6 719.2,683.5 719.8,691.3 720.2,696.8 720.8,704.5 721.2,706.3 721.8,705.8 722.2,707.5 722.8,712.8 723.2,715.5 723.8,721.0 724.1,730.8 724.5,739.0 724.9,747.2 725.2,757.0 725.7,756.1 726.1,752.7 726.6,752.3 727.0,748.8 727.5,748.0 728.0,751.4 728.5,752.3 729.0,755.5 729.4,745.2 729.8,732.6 730.2,722.5 730.7,720.0 731.2,714.8 731.7,712.0 732.2,708.5 732.6,702.0 733.0,699.3 733.5,694.0 733.9,690.7 734.3,689.6 734.7,686.5 735.2,686.6 735.6,689.0 736.0,688.1 736.5,689.5 737.0,691.9 737.4,691.8 737.9,694.9 738.3,694.7 738.8,697.0 739.1,691.2 739.4,683.3 739.8,677.5 740.3,674.9 740.8,669.9 741.3,667.0 741.8,663.7 742.3,658.2 742.8,655.0 743.3,655.6 743.8,653.4 744.3,654.6 744.8,653.5 745.2,653.3 745.7,655.7 746.2,655.1 746.7,656.5 747.2,658.3 747.6,658.0 748.0,660.5 748.5,661.0 749.0,655.3 749.5,651.7 750.0,646.0 750.5,639.7 751.0,635.7 751.5,629.5 752.0,623.8 752.5,620.5 753.0,614.5 753.5,613.8 753.9,616.0 754.4,614.5 754.8,616.5 755.2,616.0 755.8,619.3 756.2,624.6 756.8,628.0 757.2,632.1 757.7,637.5 758.2,636.6 758.6,632.9 759.0,632.9 759.5,630.0 760.0,627.0 760.4,626.1 760.9,622.0 761.3,621.3 761.8,618.0 762.2,615.5 762.6,615.4 763.1,612.0 763.5,611.6 764.0,609.0 764.5,609.6 764.9,613.0 765.3,612.6 765.8,615.0 766.2,621.9 766.7,627.0 767.2,624.2 767.6,624.2 768.0,620.6 768.5,619.5 769.0,620.9 769.5,619.5 770.0,621.0 770.5,618.9 771.0,614.2 771.5,612.0 772.0,611.4 772.5,608.1 773.0,607.5 773.5,608.6 773.9,607.3 774.4,609.2 774.8,607.9 775.2,609.0 775.8,610.8 776.2,610.4 776.8,612.0 777.2,612.0 777.6,609.2 778.1,610.3 778.5,607.5 779.0,607.5 779.5,608.0 779.9,606.0 780.4,607.4 780.8,605.5 781.2,606.0 781.7,606.0 782.1,603.6 782.6,604.2 783.0,601.8 783.5,601.5 784.0,602.9 784.4,601.9 784.9,604.0 785.3,603.0 785.8,604.5 786.2,605.3 786.6,603.7 787.1,605.5 787.5,603.8 788.0,604.5 788.5,606.2 788.9,606.0 789.3,608.7 789.8,609.0 790.3,606.4 790.8,605.9 791.3,602.4 791.8,601.5 792.2,601.6 792.7,599.2 793.2,600.2 793.7,598.5 794.2,597.4 794.6,598.6 795.0,596.7 795.5,597.0 796.0,597.8 796.4,596.1 796.9,598.0 797.3,596.0 797.8,597.0 798.2,596.3 798.8,593.2 799.2,592.5 799.7,594.1 800.1,593.6 800.6,596.0 801.0,595.2 801.5,597.0 802.0,597.6 802.4,595.5 802.9,597.1 803.3,595.1 803.8,595.5 804.1,597.7 804.4,597.7 804.8,600.0 805.3,599.2 805.8,596.3 806.3,596.3 806.8,594.0 807.2,592.5 807.6,593.6 808.1,591.5 808.5,592.5 809.0,591.0 809.5,590.4 809.9,592.5 810.3,591.5 810.8,592.5 811.3,594.6 811.8,594.6 812.3,597.0 812.7,601.6 813.1,604.1 813.5,609.0 814.0,611.8 814.5,612.3 815.0,615.0 815.4,620.9 815.8,624.4 816.2,630.0 816.7,629.9 817.1,627.7 817.5,628.4 818.0,627.0 818.5,626.8 818.9,629.2 819.3,628.6 819.8,630.0 820.2,625.6 820.6,619.1 821.0,615.0 821.5,612.8 822.0,608.1 822.5,606.0 823.0,609.9 823.5,611.1 824.0,615.0 824.5,616.5 825.0,615.1 825.5,616.5 826.0,616.9 826.4,615.1 826.9,616.3 827.3,614.7 827.8,615.0 828.2,615.4 828.7,613.4 829.2,614.5 829.7,613.5 830.2,616.3 830.7,621.2 831.2,624.0 831.6,626.1 831.9,630.8 832.2,633.0 832.8,628.2 833.2,625.9 833.8,621.0 834.2,615.7 834.8,612.9 835.2,607.5 835.7,607.4 836.1,609.9 836.6,609.2 837.0,612.0 837.5,612.0 838.0,610.1 838.4,610.4 838.9,607.5 839.3,608.2 839.8,606.0 840.2,606.7 840.8,609.8 841.2,610.5 841.7,608.9 842.1,610.2 842.6,607.7 843.0,608.9 843.5,607.5 844.0,608.6 844.5,612.2 845.0,613.5 845.5,615.1 846.0,619.4 846.5,621.0 847.0,620.9 847.4,623.4 847.8,622.6 848.3,624.0 848.7,631.5 849.1,636.0 849.5,643.5 850.0,644.5 850.5,642.7 851.0,643.5 851.4,640.9 851.8,635.8 852.2,633.0 852.7,629.5 853.2,623.1 853.7,619.5 854.1,624.2 854.4,626.9 854.8,631.5 855.2,626.8 855.8,619.7 856.2,615.0 856.8,612.4 857.2,607.2 857.8,604.5 858.2,606.6 858.8,606.6 859.2,609.0 859.8,608.6 860.2,606.1 860.8,606.0 861.2,605.9 861.7,603.8 862.2,604.7 862.7,603.0 863.2,601.3 863.7,601.7 864.2,600.0 864.7,594.2 865.2,590.9 865.7,585.0 866.2,581.1 866.6,579.9 867.0,575.0 867.5,573.0 868.0,574.8 868.5,574.0 869.0,576.0 869.5,577.3 870.0,576.6 870.5,578.0 871.0,576.5 871.5,572.6 872.0,571.0 872.5,571.6 873.0,569.5 873.5,570.0 873.9,570.8 874.4,569.1 874.8,570.8 875.2,570.0 875.8,566.3 876.2,564.8 876.8,561.0 877.2,560.1 877.6,562.0 878.1,560.3 878.5,561.9 879.0,561.0 879.5,557.9 879.9,557.6 880.4,553.9 880.8,553.3 881.2,550.5 881.6,549.2 881.9,550.3 882.3,549.0 882.8,551.2 883.3,555.6 883.8,558.0 884.2,558.5 884.6,561.8 885.0,562.5 885.5,559.7 886.0,559.4 886.5,556.5 887.0,555.7 887.4,557.3 887.9,555.6 888.3,557.1 888.8,556.5 889.2,555.1 889.6,556.1 890.1,553.7 890.5,555.1 891.0,553.5 891.5,552.5 891.9,553.7 892.4,551.9 892.8,553.1 893.2,552.0 893.6,547.1 893.9,545.0 894.3,540.0 894.8,533.2 895.2,528.0 895.7,527.6 896.1,525.1 896.5,525.5 897.0,523.5 897.5,521.8 897.9,522.7 898.3,520.3 898.8,520.5 899.3,522.6 899.8,522.8 900.3,525.7 900.8,526.5 901.2,527.6 901.8,531.2 902.2,532.5 902.7,529.9 903.2,529.6 903.7,526.2 904.2,525.0 904.7,526.6 905.1,525.9 905.5,528.1 906.0,528.0 906.5,526.7 906.9,527.5 907.4,525.4 907.8,526.4 908.2,525.0 908.7,524.6 909.2,526.5 909.7,525.3 910.2,526.5 910.7,525.5 911.1,522.6 911.5,522.5 912.0,520.0 912.5,514.1 913.0,510.8 913.5,505.0 914.0,502.0 914.4,501.6 914.9,497.8 915.3,497.3 915.8,494.5 916.2,492.5 916.7,493.2 917.2,490.2 917.7,490.0 918.2,488.1 918.6,484.0 919.0,483.1 919.5,479.5 920.0,477.3 920.4,477.5 920.9,474.0 921.3,474.2 921.8,472.0 922.2,470.8 922.8,471.9 923.2,470.5 923.6,474.3 924.0,479.5 924.5,475.1 925.0,468.6 925.5,464.5 926.0,461.8 926.5,456.6 927.0,454.0 927.5,456.7 928.0,457.2 928.5,460.0 929.0,464.9 929.5,467.4 930.0,472.0 930.4,475.7 930.8,477.1 931.2,481.0 931.7,468.0 932.2,452.0 932.7,439.0 933.2,441.6 933.7,442.2 934.2,445.0 934.7,447.9 935.2,448.2 935.7,451.0 936.2,447.1 936.7,440.8 937.2,436.8 937.7,439.1 938.2,439.6 938.7,442.0 939.2,443.6 939.7,443.2 940.2,445.0 940.7,449.8 941.2,452.2 941.7,457.0 942.1,463.7 942.4,468.3 942.8,475.0 943.2,482.2 943.8,487.1 944.2,494.5 944.8,488.0 945.2,478.5 945.8,472.0 946.2,473.6 946.8,473.4 947.2,475.0 947.8,474.0 948.2,470.2 948.8,469.0 949.2,469.4 949.8,467.3 950.2,467.5 950.8,470.8 951.2,471.7 951.8,475.0 952.2,479.3 952.8,481.2 953.2,485.5 953.8,484.1 954.2,480.6 954.8,479.5 955.2,480.4 955.7,478.8 956.2,480.3 956.7,479.5 957.2,477.5 957.6,478.0 958.0,475.4 958.5,475.0 958.9,469.7 959.3,462.2 959.7,457.0 960.2,456.9 960.6,454.5 961.0,455.7 961.5,454.0 962.0,454.1 962.5,456.9 963.0,457.0 963.5,457.1 964.0,459.8 964.5,460.0 965.0,456.7 965.5,455.8 966.0,452.5 966.5,450.0 967.0,450.4 967.5,448.0 968.0,445.8 968.5,446.0 969.0,443.5 969.5,443.7 969.9,446.7 970.3,445.9 970.8,448.0 971.3,446.9 971.8,443.3 972.3,443.3 972.8,440.5 973.2,441.1 973.6,444.4 974.1,444.1 974.5,447.3 975.0,448.0 975.5,445.3 975.9,445.0 976.4,441.9 976.8,441.6 977.2,439.0 977.8,443.4 978.2,449.7 978.8,454.0 979.2,449.0 979.7,446.6 980.2,440.9 980.7,437.5 981.2,442.6 981.6,444.9 982.0,450.6 982.5,454.0 983.0,456.1 983.5,460.8 984.0,463.0 984.5,456.2 985.0,451.8 985.5,445.0 986.0,442.0 986.5,441.0 987.0,440.9 987.5,438.1 988.0,438.0 988.5,438.2 989.0,435.7 989.5,436.0 990.0,433.8 990.5,429.5 991.0,427.5 991.5,427.8 991.9,425.6 992.4,426.5 992.8,424.5 993.2,424.5 993.7,424.6 994.1,422.5 994.6,423.3 995.0,421.4 995.5,421.5 996.0,421.6 996.4,418.9 996.9,419.6 997.3,416.9 997.8,417.0 998.2,417.5 998.6,415.4 999.1,417.0 999.5,414.9 1000.0,415.5 1000.4,412.4 1000.8,408.0 1001.2,406.6 1001.6,407.7 1002.1,405.6 1002.5,406.6 1003.0,405.0 1003.5,403.1 1003.9,403.4 1004.4,400.7 1004.8,401.0 1005.2,399.0 1005.8,396.7 1006.2,396.6 1006.8,394.5 1007.2,396.5 1007.8,401.3 1008.2,403.5 1008.8,400.7 1009.2,400.3 1009.8,397.5 1010.2,394.8 1010.8,394.2 1011.2,391.5 1011.8,389.6 1012.2,390.3 1012.8,388.5 1013.2,394.8 1013.8,403.4 1014.2,409.5 1014.7,406.9 1015.2,406.4 1015.7,403.2 1016.2,402.0 1016.6,400.8 1017.0,397.7 1017.5,397.5 1017.9,394.0 1018.3,393.0 1018.8,399.0 1019.3,402.1 1019.8,408.0 1020.2,411.6 1020.6,413.0 1021.0,417.0 1021.4,426.5 1021.8,433.4 1022.2,442.5 1022.6,439.5 1022.9,433.7 1023.2,430.5 1023.6,425.3 1023.9,417.5 1024.3,412.5 1024.8,411.7 1025.3,408.7 1025.8,409.0 1026.2,406.5 1026.8,405.1 1027.2,406.3 1027.8,405.0 1028.2,400.3 1028.8,398.4 1029.2,393.8 1029.8,396.7 1030.2,401.9 1030.8,405.0 1031.2,409.2 1031.8,415.8 1032.2,420.0 1032.8,423.3 1033.2,428.6 1033.8,432.0 1034.2,433.2 1034.8,436.6 1035.2,438.0 1035.8,433.2 1036.2,430.9 1036.8,426.0 1037.2,426.7 1037.8,429.7 1038.2,430.5 1038.8,431.2 1039.2,434.3 1039.8,435.0 1040.2,436.0 1040.7,439.6 1041.2,439.6 1041.7,442.5 1042.2,451.0 1042.7,456.6 1043.2,465.0 1043.7,460.7 1044.2,454.4 1044.7,450.0 1045.2,442.5 1045.7,432.1 1046.2,424.5 1046.7,424.2 1047.1,421.5 1047.5,421.8 1048.0,420.0 1048.5,417.3 1048.9,417.1 1049.3,413.5 1049.8,412.5 1050.3,414.9 1050.8,414.6 1051.3,417.7 1051.8,418.5 1052.2,417.4 1052.7,418.7 1053.2,416.4 1053.7,417.0 1054.2,419.5 1054.6,419.4 1055.0,422.1 1055.5,423.0 1056.0,422.8 1056.5,424.8 1057.0,424.5 1057.5,420.2 1058.0,418.1 1058.5,414.0 1059.0,410.2 1059.4,408.6 1059.8,404.4 1060.3,402.9 1060.8,399.0 1061.2,400.7 1061.8,404.9 1062.2,406.5 1062.8,406.3 1063.2,408.3 1063.8,408.0 1064.2,401.3 1064.8,396.7 1065.2,390.0 1065.8,384.1 1066.2,380.9 1066.8,375.0 1067.2,373.9 1067.8,374.6 1068.2,373.5 1068.7,373.7 1069.2,376.6 1069.7,376.0 1070.2,378.0 1070.7,374.7 1071.2,369.2 1071.7,366.0 1072.2,363.7 1072.6,359.1 1073.0,357.7 1073.5,354.0 1074.0,352.5 1074.4,353.8 1074.8,351.5 1075.3,352.4 1075.8,351.0 1076.2,349.0 1076.7,349.7 1077.2,346.9 1077.7,346.5 1078.2,345.4 1078.6,342.1 1079.0,341.8 1079.5,339.0 1080.0,338.1 1080.4,339.0 1080.8,337.3 1081.3,338.6 1081.8,337.5 1082.2,334.6 1082.8,334.2 1083.2,331.5 1083.8,332.1 1084.2,335.1 1084.8,336.0 1085.2,333.4 1085.7,333.1 1086.2,329.7 1086.7,328.5 1087.2,332.2 1087.6,333.6 1088.0,338.4 1088.5,340.5 1089.0,339.5 1089.4,340.6 1089.8,338.9 1090.3,340.2 1090.8,339.0 1091.1,340.3 1091.5,343.6 1091.8,345.0 1092.2,351.1 1092.6,359.8 1093.0,366.0 1093.5,360.0 1093.9,357.0 1094.4,351.0 1094.8,347.0 1095.2,345.8 1095.7,341.1 1096.1,339.0 1096.5,343.4 1097.0,345.6 1097.4,350.0 1097.8,351.7 1098.3,350.9 1098.7,353.8 1099.2,353.1 1099.6,354.8 1100.0,355.5 1100.5,354.0 1101.0,355.5 1101.4,354.8 1101.8,361.3 1102.3,370.1 1102.7,376.6 1103.1,375.0 1103.6,375.6 1104.0,373.0 1104.4,373.0 1104.9,368.0 1105.3,360.5 1105.8,355.6 1106.2,356.7 1106.6,355.4 1107.1,357.2 1107.5,356.5 1107.9,380.0 1107.5,416.8 1108.0,414.3 1108.5,414.6 1109.0,412.4 1109.4,415.6 1109.7,420.8 1110.1,423.8 1110.5,432.1 1111.0,442.1 1111.4,440.5 1111.9,436.3 1112.3,435.8 1112.8,432.5 1113.2,422.8 1113.6,415.6 1114.0,406.2 1114.5,402.2 1114.9,400.7 1115.4,396.6 1115.8,398.0 1116.3,401.3 1116.7,402.8 1117.1,403.8 1117.6,407.6 1118.0,408.0 1118.4,410.6 1118.9,408.6 1119.3,404.1 1119.8,401.9 1120.2,403.4 1120.6,402.2 1121.0,403.6 1121.5,408.1 1121.9,410.5 1122.4,415.0 1122.8,420.7 1123.2,424.6 1123.7,417.1 1124.1,412.1 1124.6,404.5 1125.0,397.2 1125.4,391.4 1125.8,390.8 1126.2,387.7 1126.6,388.2 1127.0,386.0 1127.5,383.2 1128.0,382.8 1128.4,379.1 1128.9,378.9 1129.4,376.0 1129.8,376.9 1130.2,380.6 1130.7,380.8 1131.1,383.6 1131.5,381.4 1132.0,376.6 1132.5,375.4 1132.9,371.4 1133.3,366.1 1133.8,363.6 1134.2,358.2 1134.7,357.1 1135.1,358.7 1135.5,356.8 1136.0,357.4 1136.4,360.6 1136.8,361.1 1137.2,364.4 1137.7,356.7 1138.1,346.7 1138.6,339.0 1139.0,336.7 1139.5,332.3 1139.9,330.2 1140.3,330.7 1140.8,328.3 1141.2,328.5 1141.6,324.8 1142.1,319.1 1142.5,315.4 1142.9,316.4 1143.4,315.1 1143.8,317.0 1144.2,316.2 1144.7,318.9 1145.1,323.5 1145.6,325.5 1146.0,329.4 1146.4,324.7 1146.9,317.4 1147.3,312.8 1147.7,310.3 1148.0,306.6" fill="none" stroke="#595959" stroke-width="3.5" stroke-linejoin="round" stroke-linecap="round"/>
<rect x="19.8" y="913.2" width="24" height="23.6" rx="0.5" fill="none" stroke="#b2c8e6" stroke-width="3"/>
<rect x="19.8" y="946.7" width="24" height="23.6" rx="0.5" fill="none" stroke="#1271bd" stroke-width="3"/>
<rect x="616.8" y="913.2" width="24" height="23.6" rx="0.5" fill="none" stroke="#b2c8e6" stroke-width="3"/>
<rect x="616.8" y="946.7" width="24" height="23.6" rx="0.5" fill="none" stroke="#1271bd" stroke-width="3"/>
<rect x="616.8" y="980.1" width="24" height="23.6" rx="0.5" fill="none" stroke="#595959" stroke-width="3"/>
</svg>
<div class="t" style="left:15px;top:35.24px;font-size:33.5px;font-weight:700;letter-spacing:-1.025px;color:#000">Graphique 3: Forte corrélation entre</div>
<div class="t" style="left:15px;top:74.94px;font-size:33.5px;font-weight:700;letter-spacing:-0.938px;color:#000">les rendements obligataires et les</div>
<div class="t" style="left:15px;top:114.64px;font-size:33.5px;font-weight:700;letter-spacing:-1.058px;color:#000">actions énergétiques</div>
<div class="t" style="left:15px;top:155.11px;font-size:32px;font-weight:400;letter-spacing:-0.747px;color:#1e1e1e">Indice MSCI World en points (éch. g.),</div>
<div class="t" style="left:15px;top:194.71px;font-size:32px;font-weight:400;letter-spacing:-0.976px;color:#1e1e1e">rendement des bons du Trésor américain</div>
<div class="t" style="left:15px;top:234.71px;font-size:32px;font-weight:400;letter-spacing:-0.407px;color:#1e1e1e">à 10 ans en % (éch. dr.)</div>
<div class="t" style="left:627px;top:35.24px;font-size:33.5px;font-weight:700;letter-spacing:-1.091px;color:#000">Graphique 4: Potentiel de rattrapage</div>
<div class="t" style="left:627px;top:74.94px;font-size:33.5px;font-weight:700;letter-spacing:-1.239px;color:#000">par rapport à l’indice boursier mondial</div>
<div class="t" style="left:627px;top:115.41px;font-size:32px;font-weight:400;letter-spacing:-0.963px;color:#1e1e1e">Indices MSCI World et MSCI World Ener-</div>
<div class="t" style="left:627px;top:155.11px;font-size:32px;font-weight:400;letter-spacing:-0.666px;color:#1e1e1e">gy en points (éch. g.), prix du pétrole brut</div>
<div class="t" style="left:627px;top:194.71px;font-size:32px;font-weight:400;letter-spacing:-0.695px;color:#1e1e1e">Brent en USD par baril (éch. dr.)</div>
<div class="t" style="left:60px;top:912.71px;font-size:25.5px;font-weight:400;letter-spacing:-0.844px;color:#1e1e1e">Indice MSCI World Energy (éch. g.)</div>
<div class="t" style="left:60px;top:948.01px;font-size:25.5px;font-weight:400;letter-spacing:-0.973px;color:#1e1e1e">Rendement des bons du Trésor américain</div>
<div class="t" style="left:60px;top:977.11px;font-size:25.5px;font-weight:400;letter-spacing:-0.417px;color:#1e1e1e">à 10 ans (éch. dr.)</div>
<div class="t" style="left:657px;top:912.41px;font-size:25.5px;font-weight:400;letter-spacing:-0.917px;color:#1e1e1e">MSCI World</div>
<div class="t" style="left:657px;top:946.21px;font-size:25.5px;font-weight:400;letter-spacing:-1.0px;color:#1e1e1e">MSCI World Energy</div>
<div class="t" style="left:657px;top:979.01px;font-size:25.5px;font-weight:400;letter-spacing:-0.586px;color:#1e1e1e">Pétrole brut Brent (éch. dr.)</div>
<div class="t" style="left:15px;top:1057.84px;font-size:25px;font-weight:400;letter-spacing:0.096px;color:#1e1e1e"><b style="letter-spacing:0.036px">Dernières données au:</b> 28 janvier 2022</div>
<div class="t" style="left:15px;top:1090.14px;font-size:25px;font-weight:400;letter-spacing:-0.394px;color:#1e1e1e"><b style="letter-spacing:0.038px">Sources:</b> Bloomberg, Credit Suisse</div>
<div class="t" style="left:15px;top:1123.84px;font-size:25px;font-weight:400;letter-spacing:-0.425px;color:#1e1e1e">Les évolutions antérieures et les scénarios élaborés pour les marchés financiers ne sont pas des indicateurs</div>
<div class="t" style="left:15px;top:1156.94px;font-size:25px;font-weight:400;letter-spacing:-0.21px;color:#1e1e1e">fiables des résultats futurs.</div>
</body></html>
